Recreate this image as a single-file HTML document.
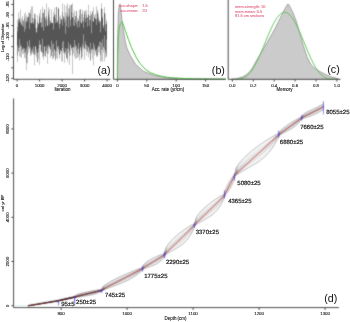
<!DOCTYPE html>
<html><head><meta charset="utf-8"><style>
html,body{margin:0;padding:0;background:#fff;}
svg{display:block;font-family:"Liberation Sans", sans-serif;} 
</style></head><body>
<svg style="will-change:transform" width="350" height="322" viewBox="0 0 350 322">
<defs><filter id="tb" x="-20%" y="-50%" width="140%" height="200%"><feConvolveMatrix order="3" kernelMatrix="1 2 1 2 6 2 1 2 1" divisor="18" edgeMode="none"/></filter></defs>
<filter id="soft" x="0" y="0" width="350" height="322" filterUnits="userSpaceOnUse"><feConvolveMatrix order="3" kernelMatrix="1 2 1 2 16 2 1 2 1" edgeMode="duplicate"/></filter>
<filter id="tb2" x="-10%" y="-50%" width="120%" height="200%"><feConvolveMatrix order="3" kernelMatrix="1 2 1 2 12 2 1 2 1" divisor="24" edgeMode="none"/></filter>
<rect width="350" height="322" fill="#fff"/>
<g filter="url(#soft)">
<path d="M17 19h1v1h-1zM20 9h1v1h-1zM23 19h1v1h-1zM24 13h1v1h-1zM29 49h1v1h-1zM31 55h1v1h-1zM35 55h1v1h-1zM36 57h1v1h-1zM45 57h1v1h-1zM52 59h1v1h-1zM54 56h1v1h-1zM57 19h1v1h-1zM64 4h1v1h-1zM66 5h1v1h-1zM75 59h1v1h-1zM79 9h1v1h-1zM82 9h1v1h-1zM84 10h1v1h-1zM88 4h1v1h-1zM94 14h1v1h-1zM94 55h1v1h-1zM99 19h1v1h-1zM106 19h1v1h-1zM106 57h1v1h-1z" fill="rgb(240,240,240)"/>
<path d="M17 20h1v6h-1zM17 56h1v6h-1zM18 13h1v6h-1zM19 48h1v8h-1zM20 10h1v11h-1zM20 47h1v9h-1zM21 19h1v4h-1zM21 52h1v5h-1zM22 17h1v3h-1zM22 50h1v3h-1zM23 20h1v1h-1zM23 50h1v3h-1zM24 14h1v3h-1zM24 53h1v4h-1zM25 13h1v8h-1zM25 53h1v5h-1zM26 16h1v3h-1zM26 64h1v6h-1zM27 55h1v8h-1zM28 13h1v3h-1zM28 47h1v4h-1zM30 10h1v3h-1zM30 54h1v1h-1zM31 7h1v16h-1zM31 54h1v1h-1zM32 7h1v11h-1zM33 18h1v4h-1zM34 55h1v10h-1zM35 14h1v5h-1zM35 47h1v8h-1zM36 29h1v2h-1zM36 53h1v4h-1zM37 16h1v5h-1zM38 53h1v6h-1zM39 13h1v2h-1zM39 45h1v19h-1zM40 10h1v12h-1zM40 45h1v6h-1zM41 18h1v4h-1zM42 7h1v6h-1zM42 53h1v3h-1zM43 57h1v2h-1zM44 47h1v8h-1zM45 17h1v2h-1zM46 4h1v12h-1zM46 51h1v2h-1zM47 19h1v6h-1zM47 54h1v9h-1zM48 8h1v3h-1zM48 47h1v6h-1zM49 9h1v8h-1zM49 47h1v1h-1zM50 50h1v7h-1zM51 10h1v12h-1zM52 52h1v7h-1zM53 13h1v3h-1zM53 57h1v1h-1zM54 8h1v7h-1zM54 50h1v6h-1zM55 14h1v4h-1zM55 59h1v1h-1zM56 51h1v6h-1zM57 20h1v1h-1zM57 48h1v11h-1zM58 50h1v2h-1zM59 17h1v7h-1zM59 55h1v3h-1zM60 16h1v3h-1zM60 51h1v2h-1zM61 52h1v9h-1zM62 4h1v8h-1zM62 48h1v13h-1zM63 51h1v2h-1zM64 5h1v12h-1zM64 54h1v8h-1zM65 13h1v6h-1zM65 53h1v1h-1zM66 6h1v9h-1zM67 4h1v9h-1zM67 59h1v3h-1zM68 9h1v7h-1zM68 49h1v4h-1zM69 6h1v2h-1zM69 56h1v9h-1zM70 6h1v13h-1zM70 46h1v9h-1zM71 48h1v2h-1zM72 4h1v13h-1zM72 56h1v18h-1zM73 13h1v4h-1zM73 48h1v5h-1zM74 11h1v8h-1zM74 49h1v7h-1zM75 47h1v12h-1zM76 51h1v7h-1zM77 18h1v3h-1zM77 54h1v3h-1zM78 19h1v1h-1zM78 49h1v7h-1zM79 10h1v5h-1zM79 55h1v5h-1zM80 48h1v2h-1zM81 15h1v8h-1zM82 10h1v3h-1zM82 48h1v8h-1zM83 18h1v3h-1zM83 47h1v2h-1zM84 11h1v1h-1zM84 49h1v11h-1zM85 11h1v7h-1zM85 45h1v4h-1zM86 11h1v3h-1zM86 50h1v5h-1zM88 5h1v9h-1zM88 48h1v9h-1zM89 16h1v4h-1zM90 12h1v4h-1zM90 60h1v1h-1zM91 50h1v3h-1zM92 50h1v8h-1zM93 8h1v13h-1zM93 51h1v14h-1zM94 15h1v2h-1zM94 49h1v6h-1zM95 14h1v4h-1zM95 51h1v2h-1zM96 7h1v12h-1zM97 10h1v1h-1zM98 13h1v4h-1zM98 47h1v5h-1zM99 48h1v5h-1zM100 56h1v5h-1zM101 4h1v4h-1zM101 50h1v11h-1zM102 9h1v7h-1zM102 50h1v11h-1zM103 25h1v1h-1zM103 48h1v4h-1zM104 8h1v4h-1zM104 50h1v11h-1zM105 14h1v10h-1zM105 53h1v4h-1zM106 20h1v2h-1zM106 56h1v1h-1z" fill="rgb(198,198,198)"/>
<path d="M17 26h1v1h-1zM21 23h1v1h-1zM24 17h1v1h-1zM25 21h1v1h-1zM26 19h1v1h-1zM28 16h1v1h-1zM30 53h1v1h-1zM32 51h1v1h-1zM39 15h1v1h-1zM65 19h1v1h-1zM70 19h1v1h-1zM72 55h1v1h-1zM73 47h1v1h-1zM76 11h1v1h-1zM85 44h1v1h-1zM87 17h1v1h-1zM89 52h1v1h-1zM92 11h1v1h-1zM99 47h1v1h-1zM100 55h1v1h-1zM106 55h1v1h-1z" fill="rgb(186,186,186)"/>
<path d="M17 27h1v4h-1zM17 46h1v9h-1zM18 20h1v2h-1zM18 48h1v3h-1zM19 19h1v1h-1zM19 40h1v7h-1zM20 45h1v1h-1zM21 24h1v1h-1zM21 46h1v5h-1zM22 21h1v5h-1zM23 22h1v4h-1zM23 48h1v1h-1zM24 18h1v13h-1zM24 49h1v4h-1zM25 22h1v6h-1zM25 51h1v1h-1zM26 20h1v2h-1zM26 49h1v14h-1zM27 18h1v3h-1zM27 42h1v12h-1zM29 13h1v15h-1zM29 40h1v8h-1zM30 14h1v8h-1zM30 48h1v5h-1zM31 51h1v2h-1zM32 18h1v4h-1zM32 49h1v2h-1zM33 47h1v7h-1zM34 14h1v5h-1zM34 52h1v2h-1zM35 20h1v7h-1zM36 50h1v2h-1zM37 22h1v5h-1zM37 53h1v9h-1zM38 49h1v3h-1zM39 16h1v2h-1zM39 41h1v4h-1zM41 22h1v5h-1zM41 51h1v1h-1zM42 14h1v12h-1zM42 39h1v14h-1zM43 13h1v17h-1zM43 53h1v3h-1zM44 10h1v7h-1zM44 46h1v1h-1zM45 19h1v7h-1zM45 52h1v4h-1zM46 17h1v3h-1zM46 46h1v4h-1zM47 48h1v6h-1zM48 12h1v2h-1zM48 45h1v1h-1zM49 18h1v6h-1zM50 22h1v1h-1zM51 41h1v14h-1zM52 45h1v6h-1zM53 17h1v12h-1zM53 44h1v12h-1zM55 19h1v4h-1zM55 52h1v7h-1zM56 7h1v14h-1zM56 41h1v9h-1zM58 47h1v2h-1zM59 25h1v3h-1zM60 20h1v3h-1zM62 13h1v12h-1zM62 43h1v5h-1zM63 17h1v2h-1zM63 41h1v9h-1zM64 18h1v4h-1zM65 20h1v13h-1zM65 48h1v4h-1zM66 16h1v10h-1zM66 50h1v8h-1zM67 14h1v2h-1zM67 49h1v9h-1zM68 17h1v10h-1zM68 43h1v6h-1zM69 9h1v6h-1zM69 52h1v3h-1zM70 20h1v6h-1zM71 5h1v7h-1zM72 48h1v7h-1zM73 17h1v8h-1zM74 20h1v6h-1zM74 40h1v8h-1zM75 16h1v6h-1zM75 45h1v1h-1zM76 12h1v12h-1zM76 46h1v4h-1zM77 22h1v5h-1zM77 49h1v4h-1zM78 44h1v4h-1zM79 16h1v11h-1zM80 10h1v11h-1zM81 52h1v6h-1zM82 14h1v7h-1zM82 44h1v3h-1zM83 22h1v5h-1zM83 35h1v11h-1zM84 12h1v2h-1zM84 48h1v1h-1zM85 19h1v3h-1zM85 42h1v2h-1zM86 15h1v2h-1zM86 46h1v3h-1zM87 18h1v8h-1zM87 46h1v5h-1zM89 20h1v5h-1zM89 50h1v2h-1zM90 16h1v3h-1zM90 43h1v17h-1zM91 14h1v19h-1zM92 12h1v9h-1zM93 43h1v7h-1zM94 46h1v2h-1zM96 19h1v5h-1zM96 50h1v5h-1zM97 12h1v1h-1zM97 48h1v7h-1zM98 18h1v3h-1zM99 21h1v2h-1zM99 42h1v5h-1zM100 22h1v10h-1zM100 42h1v13h-1zM101 43h1v7h-1zM102 17h1v1h-1zM102 40h1v9h-1zM103 27h1v1h-1zM104 36h1v13h-1zM105 25h1v6h-1zM105 51h1v1h-1zM106 22h1v2h-1zM106 40h1v15h-1z" fill="rgb(144,144,144)"/>
<path d="M17 31h1v1h-1zM18 47h1v1h-1zM23 26h1v1h-1zM26 22h1v1h-1zM27 21h1v1h-1zM32 48h1v1h-1zM37 27h1v1h-1zM42 38h1v1h-1zM48 44h1v1h-1zM51 40h1v1h-1zM54 15h1v1h-1zM55 23h1v1h-1zM73 25h1v1h-1zM81 51h1v1h-1zM89 49h1v1h-1zM98 21h1v1h-1zM106 39h1v1h-1z" fill="rgb(108,108,108)"/>
<path d="M17 32h1v13h-1zM18 23h1v24h-1zM19 21h1v18h-1zM20 23h1v21h-1zM21 26h1v20h-1zM22 27h1v21h-1zM23 27h1v20h-1zM24 32h1v16h-1zM25 29h1v21h-1zM26 23h1v25h-1zM27 22h1v19h-1zM28 18h1v27h-1zM29 29h1v10h-1zM30 23h1v24h-1zM31 24h1v26h-1zM32 23h1v25h-1zM33 24h1v22h-1zM34 20h1v31h-1zM35 28h1v17h-1zM36 33h1v16h-1zM37 28h1v24h-1zM38 25h1v23h-1zM39 19h1v21h-1zM40 23h1v21h-1zM41 28h1v22h-1zM42 27h1v11h-1zM43 31h1v21h-1zM44 18h1v28h-1zM45 27h1v24h-1zM46 21h1v24h-1zM47 26h1v21h-1zM48 15h1v29h-1zM49 25h1v21h-1zM50 24h1v24h-1zM51 24h1v16h-1zM52 24h1v20h-1zM53 30h1v13h-1zM54 16h1v33h-1zM55 24h1v27h-1zM56 22h1v18h-1zM57 23h1v23h-1zM58 9h1v37h-1zM59 29h1v25h-1zM60 24h1v25h-1zM61 21h1v30h-1zM62 26h1v16h-1zM63 20h1v21h-1zM64 23h1v29h-1zM65 34h1v14h-1zM66 27h1v22h-1zM67 17h1v31h-1zM68 28h1v14h-1zM69 16h1v35h-1zM70 27h1v17h-1zM71 13h1v34h-1zM72 18h1v29h-1zM73 26h1v21h-1zM74 27h1v12h-1zM75 23h1v21h-1zM76 25h1v20h-1zM77 28h1v20h-1zM78 21h1v22h-1zM79 28h1v25h-1zM80 22h1v24h-1zM81 24h1v27h-1zM82 22h1v21h-1zM83 28h1v6h-1zM84 15h1v33h-1zM85 23h1v18h-1zM86 18h1v27h-1zM87 27h1v18h-1zM88 16h1v30h-1zM89 26h1v23h-1zM90 20h1v22h-1zM91 34h1v15h-1zM92 22h1v26h-1zM93 22h1v20h-1zM94 18h1v27h-1zM95 19h1v30h-1zM96 25h1v24h-1zM97 14h1v33h-1zM98 22h1v23h-1zM99 24h1v17h-1zM100 33h1v8h-1zM101 9h1v34h-1zM102 19h1v20h-1zM103 29h1v17h-1zM104 13h1v22h-1zM105 32h1v18h-1zM106 25h1v14h-1z" fill="rgb(84,84,84)"/>
<path d="M17 45h1v1h-1zM18 22h1v1h-1zM20 44h1v1h-1zM28 17h1v1h-1zM31 50h1v1h-1zM35 27h1v1h-1zM36 32h1v1h-1zM38 48h1v1h-1zM45 26h1v1h-1zM45 51h1v1h-1zM47 47h1v1h-1zM52 44h1v1h-1zM57 46h1v1h-1zM62 25h1v1h-1zM65 33h1v1h-1zM68 27h1v1h-1zM68 42h1v1h-1zM69 15h1v1h-1zM76 24h1v1h-1zM77 27h1v1h-1zM83 34h1v1h-1zM86 17h1v1h-1zM87 26h1v1h-1zM89 25h1v1h-1zM94 45h1v1h-1zM97 13h1v1h-1zM102 39h1v1h-1z" fill="rgb(126,126,126)"/>
<path d="M17 55h1v1h-1zM21 51h1v1h-1zM44 9h1v1h-1zM61 51h1v1h-1zM66 15h1v1h-1zM74 19h1v1h-1zM76 50h1v1h-1zM80 9h1v1h-1zM83 46h1v1h-1zM87 51h1v1h-1zM95 18h1v1h-1zM96 55h1v1h-1zM98 46h1v1h-1zM100 21h1v1h-1zM102 16h1v1h-1zM104 49h1v1h-1z" fill="rgb(180,180,180)"/>
<path d="M18 12h1v1h-1zM24 57h1v1h-1zM25 58h1v1h-1zM33 54h1v1h-1zM34 13h1v1h-1zM48 53h1v1h-1zM51 9h1v1h-1zM58 7h1v1h-1zM60 53h1v1h-1zM62 3h1v1h-1zM68 8h1v1h-1zM74 10h1v1h-1zM79 60h1v1h-1zM97 9h1v1h-1zM103 24h1v1h-1zM103 52h1v1h-1zM105 57h1v1h-1z" fill="rgb(222,222,222)"/>
<path d="M18 19h1v1h-1zM22 49h1v1h-1zM23 21h1v1h-1zM34 54h1v1h-1zM38 23h1v1h-1zM46 16h1v1h-1zM47 25h1v1h-1zM48 46h1v1h-1zM49 17h1v1h-1zM56 50h1v1h-1zM61 19h1v1h-1zM68 16h1v1h-1zM77 21h1v1h-1zM79 15h1v1h-1zM86 14h1v1h-1z" fill="rgb(168,168,168)"/>
<path d="M18 51h1v1h-1zM28 12h1v1h-1zM36 28h1v1h-1zM42 56h1v1h-1zM43 12h1v1h-1zM46 3h1v1h-1zM65 12h1v1h-1zM67 3h1v1h-1zM69 5h1v1h-1zM71 4h1v1h-1zM72 3h1v1h-1zM74 56h1v1h-1zM81 59h1v1h-1zM83 17h1v1h-1zM85 10h1v1h-1zM86 10h1v1h-1zM86 55h1v1h-1zM89 53h1v1h-1zM92 58h1v1h-1zM101 3h1v1h-1z" fill="rgb(216,216,216)"/>
<path d="M19 17h1v1h-1zM19 56h1v1h-1zM30 9h1v1h-1zM34 65h1v1h-1zM38 22h1v1h-1zM42 6h1v1h-1zM54 7h1v1h-1zM56 6h1v1h-1zM57 59h1v1h-1zM59 16h1v1h-1zM68 53h1v1h-1zM71 50h1v1h-1zM73 12h1v1h-1zM73 53h1v1h-1zM77 17h1v1h-1zM78 18h1v1h-1zM89 15h1v1h-1zM93 65h1v1h-1z" fill="rgb(234,234,234)"/>
<path d="M19 18h1v1h-1zM19 47h1v1h-1zM20 21h1v1h-1zM22 20h1v1h-1zM25 52h1v1h-1zM27 54h1v1h-1zM31 53h1v1h-1zM37 21h1v1h-1zM38 52h1v1h-1zM43 56h1v1h-1zM46 50h1v1h-1zM65 52h1v1h-1zM69 8h1v1h-1zM69 55h1v1h-1zM70 45h1v1h-1zM77 53h1v1h-1zM78 20h1v1h-1zM82 13h1v1h-1zM82 47h1v1h-1zM93 50h1v1h-1zM97 55h1v1h-1zM103 47h1v1h-1zM104 12h1v1h-1z" fill="rgb(174,174,174)"/>
<path d="M19 20h1v1h-1zM24 31h1v1h-1zM25 50h1v1h-1zM26 48h1v1h-1zM27 41h1v1h-1zM32 22h1v1h-1zM33 46h1v1h-1zM36 49h1v1h-1zM38 24h1v1h-1zM39 40h1v1h-1zM43 30h1v1h-1zM53 29h1v1h-1zM59 54h1v1h-1zM60 49h1v1h-1zM70 44h1v1h-1zM77 48h1v1h-1zM79 53h1v1h-1zM84 14h1v1h-1zM86 45h1v1h-1zM103 46h1v1h-1zM105 50h1v1h-1z" fill="rgb(120,120,120)"/>
<path d="M19 39h1v1h-1zM24 48h1v1h-1zM29 28h1v1h-1zM30 47h1v1h-1zM33 23h1v1h-1zM40 44h1v1h-1zM42 26h1v1h-1zM54 49h1v1h-1zM56 21h1v1h-1zM57 22h1v1h-1zM58 46h1v1h-1zM67 16h1v1h-1zM67 48h1v1h-1zM69 51h1v1h-1zM72 17h1v1h-1zM78 43h1v1h-1zM83 27h1v1h-1zM90 19h1v1h-1zM94 17h1v1h-1z" fill="rgb(138,138,138)"/>
<path d="M20 22h1v1h-1zM25 28h1v1h-1zM41 50h1v1h-1zM46 20h1v1h-1zM48 14h1v1h-1zM49 24h1v1h-1zM49 46h1v1h-1zM62 42h1v1h-1zM64 52h1v1h-1zM80 21h1v1h-1zM85 41h1v1h-1zM91 49h1v1h-1zM92 48h1v1h-1zM96 24h1v1h-1z" fill="rgb(132,132,132)"/>
<path d="M20 46h1v1h-1zM23 49h1v1h-1zM28 46h1v1h-1zM48 11h1v1h-1zM50 21h1v1h-1zM50 49h1v1h-1zM52 51h1v1h-1zM57 47h1v1h-1zM58 8h1v1h-1zM64 17h1v1h-1zM67 58h1v1h-1zM75 46h1v1h-1zM79 54h1v1h-1zM88 14h1v1h-1zM92 49h1v1h-1zM94 48h1v1h-1zM95 50h1v1h-1zM97 11h1v1h-1zM98 17h1v1h-1zM102 49h1v1h-1z" fill="rgb(162,162,162)"/>
<path d="M20 56h1v1h-1zM21 57h1v1h-1zM22 16h1v1h-1zM22 53h1v1h-1zM23 53h1v1h-1zM25 12h1v1h-1zM30 55h1v1h-1zM32 52h1v1h-1zM37 15h1v1h-1zM39 64h1v1h-1zM43 59h1v1h-1zM53 12h1v1h-1zM53 58h1v1h-1zM60 15h1v1h-1zM64 62h1v1h-1zM65 54h1v1h-1zM70 5h1v1h-1zM78 56h1v1h-1zM90 11h1v1h-1zM96 6h1v1h-1zM96 56h1v1h-1zM97 56h1v1h-1z" fill="rgb(210,210,210)"/>
<path d="M21 18h1v1h-1zM26 15h1v1h-1zM31 6h1v1h-1zM32 6h1v1h-1zM37 62h1v1h-1zM40 9h1v1h-1zM41 17h1v1h-1zM41 52h1v1h-1zM47 18h1v1h-1zM50 20h1v1h-1zM52 22h1v1h-1zM58 52h1v1h-1zM59 58h1v1h-1zM61 18h1v1h-1zM61 61h1v1h-1zM62 61h1v1h-1zM63 15h1v1h-1zM66 58h1v1h-1zM70 55h1v1h-1zM76 10h1v1h-1zM83 49h1v1h-1zM88 57h1v1h-1zM91 53h1v1h-1zM100 61h1v1h-1zM101 61h1v1h-1zM102 61h1v1h-1zM104 61h1v1h-1z" fill="rgb(228,228,228)"/>
<path d="M21 25h1v1h-1zM28 45h1v1h-1zM29 39h1v1h-1zM35 45h1v1h-1zM41 27h1v1h-1zM43 52h1v1h-1zM50 23h1v1h-1zM61 20h1v1h-1zM63 19h1v1h-1zM76 45h1v1h-1zM79 27h1v1h-1zM82 43h1v1h-1zM92 21h1v1h-1zM95 49h1v1h-1zM96 49h1v1h-1zM98 45h1v1h-1zM103 28h1v1h-1zM105 31h1v1h-1z" fill="rgb(90,90,90)"/>
<path d="M22 26h1v1h-1zM23 47h1v1h-1zM30 22h1v1h-1zM34 19h1v1h-1zM51 23h1v1h-1zM52 23h1v1h-1zM66 26h1v1h-1zM71 12h1v1h-1zM74 26h1v1h-1zM74 39h1v1h-1zM82 21h1v1h-1zM85 22h1v1h-1zM87 45h1v1h-1zM88 15h1v1h-1zM90 42h1v1h-1zM91 33h1v1h-1zM93 42h1v1h-1zM99 23h1v1h-1zM100 41h1v1h-1zM106 24h1v1h-1z" fill="rgb(96,96,96)"/>
<path d="M22 48h1v1h-1zM31 23h1v1h-1zM34 51h1v1h-1zM46 45h1v1h-1zM53 43h1v1h-1zM55 51h1v1h-1zM56 40h1v1h-1zM59 28h1v1h-1zM60 23h1v1h-1zM66 49h1v1h-1zM80 46h1v1h-1zM88 46h1v1h-1zM102 18h1v1h-1z" fill="rgb(114,114,114)"/>
<path d="M26 63h1v1h-1zM29 48h1v1h-1zM30 13h1v1h-1zM36 31h1v1h-1zM45 56h1v1h-1zM53 16h1v1h-1zM57 21h1v1h-1zM58 49h1v1h-1zM63 16h1v1h-1zM64 53h1v1h-1zM74 48h1v1h-1zM81 58h1v1h-1z" fill="rgb(192,192,192)"/>
<path d="M26 70h1v1h-1zM27 16h1v1h-1zM27 63h1v1h-1zM38 59h1v1h-1zM40 51h1v1h-1zM46 53h1v1h-1zM55 13h1v1h-1zM63 53h1v1h-1zM67 62h1v1h-1zM72 74h1v1h-1zM85 49h1v1h-1zM91 13h1v1h-1zM98 12h1v1h-1zM105 13h1v1h-1z" fill="rgb(246,246,246)"/>
<path d="M27 17h1v1h-1zM35 19h1v1h-1zM51 22h1v1h-1zM53 56h1v1h-1zM60 19h1v1h-1zM60 50h1v1h-1zM62 12h1v1h-1zM78 48h1v1h-1zM85 18h1v1h-1zM101 8h1v1h-1zM105 24h1v1h-1zM105 52h1v1h-1z" fill="rgb(150,150,150)"/>
<path d="M28 51h1v1h-1zM44 55h1v1h-1zM47 63h1v1h-1zM48 7h1v1h-1zM49 48h1v1h-1zM50 57h1v1h-1zM55 60h1v1h-1zM56 57h1v1h-1zM77 57h1v1h-1zM81 14h1v1h-1zM82 56h1v1h-1zM93 7h1v1h-1zM104 7h1v1h-1z" fill="rgb(204,204,204)"/>
<path d="M33 22h1v1h-1zM35 46h1v1h-1zM36 52h1v1h-1zM40 22h1v1h-1zM42 13h1v1h-1zM51 55h1v1h-1zM55 18h1v1h-1zM59 24h1v1h-1zM63 50h1v1h-1zM67 13h1v1h-1zM80 47h1v1h-1zM83 21h1v1h-1zM86 49h1v1h-1zM88 47h1v1h-1zM93 21h1v1h-1zM99 20h1v1h-1zM103 26h1v1h-1z" fill="rgb(156,156,156)"/>
<path d="M37 52h1v1h-1zM39 18h1v1h-1zM44 17h1v1h-1zM50 48h1v1h-1zM64 22h1v1h-1zM70 26h1v1h-1zM71 47h1v1h-1zM72 47h1v1h-1zM75 22h1v1h-1zM75 44h1v1h-1zM81 23h1v1h-1zM97 47h1v1h-1zM99 41h1v1h-1zM100 32h1v1h-1zM104 35h1v1h-1z" fill="rgb(102,102,102)"/>
<line x1="13.50" y1="0.00" x2="13.50" y2="79.30" stroke="#4a4a4a" stroke-width="1.0" />
<line x1="13.50" y1="79.30" x2="110.50" y2="79.30" stroke="#4a4a4a" stroke-width="1.0" />
<line x1="11.30" y1="4.40" x2="13.50" y2="4.40" stroke="#4a4a4a" stroke-width="1.0" />
<line x1="11.30" y1="14.97" x2="13.50" y2="14.97" stroke="#4a4a4a" stroke-width="1.0" />
<line x1="11.30" y1="25.54" x2="13.50" y2="25.54" stroke="#4a4a4a" stroke-width="1.0" />
<line x1="11.30" y1="36.11" x2="13.50" y2="36.11" stroke="#4a4a4a" stroke-width="1.0" />
<line x1="11.30" y1="46.68" x2="13.50" y2="46.68" stroke="#4a4a4a" stroke-width="1.0" />
<line x1="11.30" y1="57.25" x2="13.50" y2="57.25" stroke="#4a4a4a" stroke-width="1.0" />
<line x1="11.30" y1="67.82" x2="13.50" y2="67.82" stroke="#4a4a4a" stroke-width="1.0" />
<line x1="11.30" y1="78.39" x2="13.50" y2="78.39" stroke="#4a4a4a" stroke-width="1.0" />
<line x1="17.10" y1="79.30" x2="17.10" y2="81.50" stroke="#4a4a4a" stroke-width="1.0" />
<line x1="39.60" y1="79.30" x2="39.60" y2="81.50" stroke="#4a4a4a" stroke-width="1.0" />
<line x1="62.10" y1="79.30" x2="62.10" y2="81.50" stroke="#4a4a4a" stroke-width="1.0" />
<line x1="84.60" y1="79.30" x2="84.60" y2="81.50" stroke="#4a4a4a" stroke-width="1.0" />
<line x1="107.10" y1="79.30" x2="107.10" y2="81.50" stroke="#4a4a4a" stroke-width="1.0" />
<polygon points="117.30,79.30 117.60,40.00 118.30,14.00 119.20,5.50 120.10,3.90 121.20,12.40 122.00,20.20 123.50,31.00 125.10,40.40 126.80,48.00 130.40,55.70 135.60,64.30 143.30,71.20 154.40,75.50 169.90,78.00 190.00,78.90 225.50,79.30" fill="#cbcbcb" stroke="#777" stroke-width="0.6"/>
<polyline points="117.50,79.30 117.70,55.00 118.30,38.00 119.20,28.00 120.50,23.50 122.20,21.60 125.30,30.50 128.40,39.50 131.50,47.50 136.00,57.00 140.00,63.50 145.00,69.00 150.30,72.60 157.00,75.20 164.00,76.90 173.00,77.90 186.00,78.60 200.00,78.90 226.00,79.10" fill="none" stroke="#4fbf45" stroke-width="1.0"/>
<line x1="113.50" y1="0.00" x2="113.50" y2="79.30" stroke="#4a4a4a" stroke-width="1.0" />
<line x1="113.50" y1="79.30" x2="225.70" y2="79.30" stroke="#4a4a4a" stroke-width="1.0" />
<line x1="117.40" y1="79.30" x2="117.40" y2="81.50" stroke="#4a4a4a" stroke-width="1.0" />
<line x1="146.80" y1="79.30" x2="146.80" y2="81.50" stroke="#4a4a4a" stroke-width="1.0" />
<line x1="176.20" y1="79.30" x2="176.20" y2="81.50" stroke="#4a4a4a" stroke-width="1.0" />
<line x1="205.60" y1="79.30" x2="205.60" y2="81.50" stroke="#4a4a4a" stroke-width="1.0" />
<polygon points="231.00,79.30 236.00,78.80 242.90,76.80 246.50,74.60 250.00,71.40 252.80,67.20 255.40,62.50 258.00,58.00 260.70,53.60 264.30,47.30 267.90,41.10 271.50,34.80 275.00,28.60 278.50,21.50 282.10,14.30 285.00,8.50 287.50,4.30 289.00,4.80 290.80,8.50 292.90,12.50 296.40,21.40 300.00,33.90 303.60,46.40 307.10,57.10 310.70,64.30 314.30,67.90 319.60,71.40 326.80,75.00 331.00,76.80 335.70,77.90 339.00,79.30" fill="#cbcbcb" stroke="#777" stroke-width="0.6"/>
<polyline points="232.40,79.30 232.75,79.30 233.10,79.30 233.45,79.30 233.80,79.30 234.15,79.30 234.50,79.30 234.85,79.30 235.20,79.29 235.55,79.29 235.89,79.28 236.24,79.27 236.59,79.26 236.94,79.25 237.29,79.23 237.64,79.21 237.99,79.19 238.34,79.16 238.69,79.12 239.04,79.09 239.39,79.04 239.74,78.99 240.09,78.93 240.44,78.86 240.79,78.79 241.14,78.71 241.49,78.62 241.84,78.52 242.19,78.41 242.54,78.29 242.88,78.16 243.23,78.02 243.58,77.87 243.93,77.71 244.28,77.53 244.63,77.34 244.98,77.14 245.33,76.93 245.68,76.70 246.03,76.46 246.38,76.21 246.73,75.94 247.08,75.66 247.43,75.36 247.78,75.05 248.13,74.72 248.48,74.38 248.83,74.02 249.18,73.65 249.53,73.26 249.87,72.86 250.22,72.44 250.57,72.00 250.92,71.55 251.27,71.08 251.62,70.60 251.97,70.10 252.32,69.59 252.67,69.06 253.02,68.52 253.37,67.96 253.72,67.38 254.07,66.79 254.42,66.19 254.77,65.57 255.12,64.94 255.47,64.30 255.82,63.64 256.17,62.97 256.52,62.28 256.86,61.59 257.21,60.88 257.56,60.16 257.91,59.43 258.26,58.68 258.61,57.93 258.96,57.17 259.31,56.40 259.66,55.61 260.01,54.82 260.36,54.03 260.71,53.22 261.06,52.41 261.41,51.59 261.76,50.76 262.11,49.93 262.46,49.10 262.81,48.26 263.16,47.41 263.51,46.57 263.85,45.72 264.20,44.87 264.55,44.02 264.90,43.16 265.25,42.31 265.60,41.46 265.95,40.61 266.30,39.76 266.65,38.91 267.00,38.07 267.35,37.23 267.70,36.40 268.05,35.57 268.40,34.74 268.75,33.93 269.10,33.11 269.45,32.31 269.80,31.52 270.15,30.73 270.50,29.95 270.84,29.19 271.19,28.43 271.54,27.68 271.89,26.95 272.24,26.23 272.59,25.52 272.94,24.83 273.29,24.15 273.64,23.48 273.99,22.83 274.34,22.19 274.69,21.58 275.04,20.97 275.39,20.39 275.74,19.82 276.09,19.27 276.44,18.74 276.79,18.22 277.14,17.73 277.49,17.26 277.83,16.80 278.18,16.37 278.53,15.96 278.88,15.56 279.23,15.19 279.58,14.85 279.93,14.52 280.28,14.21 280.63,13.93 280.98,13.67 281.33,13.44 281.68,13.22 282.03,13.03 282.38,12.87 282.73,12.72 283.08,12.60 283.43,12.51 283.78,12.44 284.13,12.39 284.48,12.37 284.82,12.37 285.17,12.39 285.52,12.44 285.87,12.51 286.22,12.60 286.57,12.72 286.92,12.87 287.27,13.03 287.62,13.22 287.97,13.44 288.32,13.67 288.67,13.93 289.02,14.21 289.37,14.52 289.72,14.85 290.07,15.19 290.42,15.56 290.77,15.96 291.12,16.37 291.47,16.80 291.81,17.26 292.16,17.73 292.51,18.22 292.86,18.74 293.21,19.27 293.56,19.82 293.91,20.39 294.26,20.97 294.61,21.58 294.96,22.19 295.31,22.83 295.66,23.48 296.01,24.15 296.36,24.83 296.71,25.52 297.06,26.23 297.41,26.95 297.76,27.68 298.11,28.43 298.46,29.19 298.80,29.95 299.15,30.73 299.50,31.52 299.85,32.31 300.20,33.11 300.55,33.93 300.90,34.74 301.25,35.57 301.60,36.40 301.95,37.23 302.30,38.07 302.65,38.91 303.00,39.76 303.35,40.61 303.70,41.46 304.05,42.31 304.40,43.16 304.75,44.02 305.10,44.87 305.45,45.72 305.79,46.57 306.14,47.41 306.49,48.26 306.84,49.10 307.19,49.93 307.54,50.76 307.89,51.59 308.24,52.41 308.59,53.22 308.94,54.03 309.29,54.82 309.64,55.61 309.99,56.40 310.34,57.17 310.69,57.93 311.04,58.68 311.39,59.43 311.74,60.16 312.09,60.88 312.44,61.59 312.78,62.28 313.13,62.97 313.48,63.64 313.83,64.30 314.18,64.94 314.53,65.57 314.88,66.19 315.23,66.79 315.58,67.38 315.93,67.96 316.28,68.52 316.63,69.06 316.98,69.59 317.33,70.10 317.68,70.60 318.03,71.08 318.38,71.55 318.73,72.00 319.08,72.44 319.43,72.86 319.77,73.26 320.12,73.65 320.47,74.02 320.82,74.38 321.17,74.72 321.52,75.05 321.87,75.36 322.22,75.66 322.57,75.94 322.92,76.21 323.27,76.46 323.62,76.70 323.97,76.93 324.32,77.14 324.67,77.34 325.02,77.53 325.37,77.71 325.72,77.87 326.07,78.02 326.42,78.16 326.76,78.29 327.11,78.41 327.46,78.52 327.81,78.62 328.16,78.71 328.51,78.79 328.86,78.86 329.21,78.93 329.56,78.99 329.91,79.04 330.26,79.09 330.61,79.12 330.96,79.16 331.31,79.19 331.66,79.21 332.01,79.23 332.36,79.25 332.71,79.26 333.06,79.27 333.41,79.28 333.75,79.29 334.10,79.29 334.45,79.30 334.80,79.30 335.15,79.30 335.50,79.30 335.85,79.30 336.20,79.30 336.55,79.30 336.90,79.30" fill="none" stroke="#4fbf45" stroke-width="1.0"/>
<line x1="228.20" y1="0.00" x2="228.20" y2="79.30" stroke="#4a4a4a" stroke-width="1.0" />
<line x1="228.20" y1="79.30" x2="340.50" y2="79.30" stroke="#4a4a4a" stroke-width="1.0" />
<line x1="232.40" y1="79.30" x2="232.40" y2="81.50" stroke="#4a4a4a" stroke-width="1.0" />
<line x1="253.30" y1="79.30" x2="253.30" y2="81.50" stroke="#4a4a4a" stroke-width="1.0" />
<line x1="274.20" y1="79.30" x2="274.20" y2="81.50" stroke="#4a4a4a" stroke-width="1.0" />
<line x1="295.10" y1="79.30" x2="295.10" y2="81.50" stroke="#4a4a4a" stroke-width="1.0" />
<line x1="316.00" y1="79.30" x2="316.00" y2="81.50" stroke="#4a4a4a" stroke-width="1.0" />
<line x1="336.90" y1="79.30" x2="336.90" y2="81.50" stroke="#4a4a4a" stroke-width="1.0" />
<polygon points="27.90,305.30 28.89,305.13 29.87,304.96 30.86,304.79 31.85,304.62 32.84,304.45 33.82,304.27 34.81,304.10 35.80,303.93 36.78,303.76 37.77,303.59 38.76,303.42 39.75,303.25 40.73,303.08 41.72,302.91 42.71,302.74 43.69,302.56 44.68,302.39 45.67,302.22 46.65,302.05 47.64,301.88 48.63,301.71 49.62,301.54 50.60,301.37 51.59,301.20 52.58,301.03 53.56,300.85 54.55,300.68 55.54,300.51 56.53,300.34 57.51,300.17 58.50,300.00 58.50,301.40 57.51,301.56 56.53,301.72 55.54,301.87 54.55,302.03 53.56,302.19 52.58,302.35 51.59,302.51 50.60,302.66 49.62,302.82 48.63,302.98 47.64,303.14 46.65,303.30 45.67,303.45 44.68,303.61 43.69,303.77 42.71,303.93 41.72,304.09 40.73,304.25 39.75,304.40 38.76,304.56 37.77,304.72 36.78,304.88 35.80,305.04 34.81,305.19 33.82,305.35 32.84,305.51 31.85,305.67 30.86,305.83 29.87,305.98 28.89,306.14 27.90,306.30" fill="url(#g1_0)"/>
<polygon points="27.90,305.57 28.89,305.41 29.87,305.24 30.86,305.07 31.85,304.91 32.84,304.74 33.82,304.57 34.81,304.40 35.80,304.24 36.78,304.07 37.77,303.90 38.76,303.73 39.75,303.57 40.73,303.40 41.72,303.23 42.71,303.06 43.69,302.90 44.68,302.73 45.67,302.56 46.65,302.39 47.64,302.23 48.63,302.06 49.62,301.89 50.60,301.72 51.59,301.56 52.58,301.39 53.56,301.22 54.55,301.05 55.54,300.89 56.53,300.72 57.51,300.55 58.50,300.38 58.50,301.01 57.51,301.18 56.53,301.34 55.54,301.50 54.55,301.66 53.56,301.82 52.58,301.98 51.59,302.15 50.60,302.31 49.62,302.47 48.63,302.63 47.64,302.79 46.65,302.95 45.67,303.12 44.68,303.28 43.69,303.44 42.71,303.60 41.72,303.76 40.73,303.92 39.75,304.09 38.76,304.25 37.77,304.41 36.78,304.57 35.80,304.73 34.81,304.89 33.82,305.06 32.84,305.22 31.85,305.38 30.86,305.54 29.87,305.70 28.89,305.86 27.90,306.03" fill="url(#g2_0)"/>
<polygon points="58.50,300.00 59.02,299.76 59.55,299.61 60.07,299.47 60.59,299.34 61.11,299.21 61.64,299.09 62.16,298.97 62.68,298.85 63.20,298.73 63.73,298.61 64.25,298.49 64.77,298.37 65.29,298.26 65.82,298.14 66.34,298.02 66.86,297.91 67.38,297.79 67.91,297.68 68.43,297.57 68.95,297.45 69.47,297.34 70.00,297.22 70.52,297.11 71.04,296.99 71.56,296.88 72.09,296.76 72.61,296.65 73.13,296.54 73.65,296.42 74.18,296.31 74.70,296.20 74.70,297.80 74.18,297.95 73.65,298.08 73.13,298.22 72.61,298.35 72.09,298.48 71.56,298.60 71.04,298.73 70.52,298.85 70.00,298.97 69.47,299.09 68.95,299.21 68.43,299.33 67.91,299.44 67.38,299.56 66.86,299.67 66.34,299.78 65.82,299.89 65.29,300.00 64.77,300.11 64.25,300.22 63.73,300.33 63.20,300.43 62.68,300.54 62.16,300.65 61.64,300.75 61.11,300.86 60.59,300.97 60.07,301.07 59.55,301.18 59.02,301.29 58.50,301.40" fill="url(#g1_1)"/>
<polygon points="58.50,300.38 59.02,300.21 59.55,300.08 60.07,299.95 60.59,299.83 61.11,299.70 61.64,299.58 62.16,299.46 62.68,299.34 63.20,299.22 63.73,299.10 64.25,298.98 64.77,298.86 65.29,298.75 65.82,298.63 66.34,298.51 66.86,298.39 67.38,298.28 67.91,298.16 68.43,298.04 68.95,297.93 69.47,297.81 70.00,297.69 70.52,297.57 71.04,297.46 71.56,297.34 72.09,297.22 72.61,297.11 73.13,296.99 73.65,296.87 74.18,296.75 74.70,296.64 74.70,297.36 74.18,297.49 73.65,297.62 73.13,297.74 72.61,297.87 72.09,297.99 71.56,298.12 71.04,298.24 70.52,298.36 70.00,298.48 69.47,298.60 68.95,298.72 68.43,298.84 67.91,298.95 67.38,299.07 66.86,299.19 66.34,299.30 65.82,299.42 65.29,299.53 64.77,299.65 64.25,299.76 63.73,299.88 63.20,299.99 62.68,300.10 62.16,300.22 61.64,300.33 61.11,300.44 60.59,300.56 60.07,300.67 59.55,300.79 59.02,300.90 58.50,301.01" fill="url(#g2_1)"/>
<polygon points="74.70,296.20 75.56,295.17 76.42,294.74 77.27,294.39 78.13,294.08 78.99,293.81 79.85,293.55 80.71,293.30 81.56,293.07 82.42,292.86 83.28,292.65 84.14,292.44 85.00,292.25 85.85,292.06 86.71,291.88 87.57,291.70 88.43,291.53 89.29,291.36 90.15,291.19 91.00,291.03 91.86,290.87 92.72,290.72 93.58,290.57 94.44,290.42 95.29,290.27 96.15,290.13 97.01,290.00 97.87,289.87 98.73,289.74 99.58,289.63 100.44,289.53 101.30,289.50 101.30,291.10 100.44,291.74 99.58,292.20 98.73,292.61 97.87,292.99 97.01,293.33 96.15,293.64 95.29,293.93 94.44,294.19 93.58,294.44 92.72,294.66 91.86,294.87 91.00,295.06 90.15,295.24 89.29,295.40 88.43,295.56 87.57,295.70 86.71,295.85 85.85,295.98 85.00,296.11 84.14,296.24 83.28,296.37 82.42,296.50 81.56,296.63 80.71,296.76 79.85,296.90 78.99,297.03 78.13,297.17 77.27,297.32 76.42,297.47 75.56,297.63 74.70,297.80" fill="url(#g1_2)"/>
<polygon points="74.70,296.64 75.56,296.06 76.42,295.75 77.27,295.47 78.13,295.21 78.99,294.97 79.85,294.73 80.71,294.50 81.56,294.28 82.42,294.06 83.28,293.85 84.14,293.64 85.00,293.44 85.85,293.23 86.71,293.03 87.57,292.83 88.43,292.63 89.29,292.44 90.15,292.25 91.00,292.05 91.86,291.86 92.72,291.68 93.58,291.49 94.44,291.30 95.29,291.12 96.15,290.94 97.01,290.76 97.87,290.58 98.73,290.41 99.58,290.24 100.44,290.07 101.30,289.94 101.30,290.66 100.44,291.07 99.58,291.39 98.73,291.70 97.87,291.98 97.01,292.26 96.15,292.52 95.29,292.77 94.44,293.00 93.58,293.23 92.72,293.45 91.86,293.66 91.00,293.87 90.15,294.07 89.29,294.26 88.43,294.45 87.57,294.63 86.71,294.82 85.85,295.00 85.00,295.18 84.14,295.35 83.28,295.53 82.42,295.71 81.56,295.88 80.71,296.06 79.85,296.24 78.99,296.42 78.13,296.60 77.27,296.79 76.42,296.97 75.56,297.16 74.70,297.36" fill="url(#g2_2)"/>
<polygon points="101.30,289.50 102.63,286.95 103.96,285.75 105.29,284.75 106.62,283.84 107.95,282.99 109.27,282.20 110.60,281.44 111.93,280.71 113.26,280.00 114.59,279.31 115.92,278.65 117.25,277.99 118.58,277.35 119.91,276.73 121.24,276.11 122.56,275.51 123.89,274.91 125.22,274.32 126.55,273.74 127.88,273.17 129.21,272.60 130.54,272.04 131.87,271.49 133.20,270.94 134.53,270.40 135.85,269.87 137.18,269.35 138.51,268.85 139.84,268.36 141.17,267.91 142.50,267.60 142.50,269.60 141.17,271.20 139.84,272.43 138.51,273.54 137.18,274.58 135.85,275.55 134.53,276.46 133.20,277.32 131.87,278.13 130.54,278.88 129.21,279.60 127.88,280.28 126.55,280.92 125.22,281.54 123.89,282.12 122.56,282.69 121.24,283.24 119.91,283.77 118.58,284.29 117.25,284.80 115.92,285.31 114.59,285.81 113.26,286.31 111.93,286.81 110.60,287.32 109.27,287.83 107.95,288.34 106.62,288.86 105.29,289.39 103.96,289.94 102.63,290.50 101.30,291.10" fill="url(#g1_3)"/>
<polygon points="101.30,289.94 102.63,288.41 103.96,287.48 105.29,286.65 106.62,285.85 107.95,285.09 109.27,284.34 110.60,283.62 111.93,282.90 113.26,282.20 114.59,281.51 115.92,280.82 117.25,280.14 118.58,279.47 119.91,278.80 121.24,278.14 122.56,277.48 123.89,276.83 125.22,276.18 126.55,275.53 127.88,274.89 129.21,274.25 130.54,273.61 131.87,272.98 133.20,272.35 134.53,271.72 135.85,271.10 137.18,270.48 138.51,269.87 139.84,269.26 141.17,268.67 142.50,268.15 142.50,269.05 141.17,270.15 139.84,271.09 138.51,271.98 137.18,272.83 135.85,273.65 134.53,274.45 133.20,275.22 131.87,275.97 130.54,276.69 129.21,277.40 127.88,278.09 126.55,278.76 125.22,279.43 123.89,280.08 122.56,280.72 121.24,281.35 119.91,281.97 118.58,282.59 117.25,283.21 115.92,283.82 114.59,284.43 113.26,285.04 111.93,285.65 110.60,286.26 109.27,286.88 107.95,287.49 106.62,288.11 105.29,288.74 103.96,289.37 102.63,290.01 101.30,290.66" fill="url(#g2_3)"/>
<polygon points="142.50,267.60 143.21,265.30 143.92,264.37 144.63,263.61 145.34,262.96 146.05,262.37 146.76,261.83 147.47,261.32 148.18,260.85 148.89,260.39 149.60,259.96 150.31,259.55 151.02,259.15 151.73,258.77 152.44,258.40 153.15,258.04 153.85,257.70 154.56,257.36 155.27,257.03 155.98,256.71 156.69,256.40 157.40,256.09 158.11,255.80 158.82,255.51 159.53,255.23 160.24,254.96 160.95,254.69 161.66,254.44 162.37,254.21 163.08,254.00 163.79,253.82 164.50,253.80 164.50,255.80 163.79,257.21 163.08,258.22 162.37,259.11 161.66,259.92 160.95,260.65 160.24,261.32 159.53,261.93 158.82,262.48 158.11,262.99 157.40,263.45 156.69,263.87 155.98,264.26 155.27,264.62 154.56,264.95 153.85,265.25 153.15,265.54 152.44,265.82 151.73,266.08 151.02,266.33 150.31,266.58 149.60,266.83 148.89,267.07 148.18,267.32 147.47,267.57 146.76,267.83 146.05,268.09 145.34,268.36 144.63,268.64 143.92,268.94 143.21,269.25 142.50,269.60" fill="url(#g1_4)"/>
<polygon points="142.50,268.15 143.21,266.87 143.92,266.20 144.63,265.62 145.34,265.08 146.05,264.57 146.76,264.08 147.47,263.61 148.18,263.15 148.89,262.70 149.60,262.27 150.31,261.83 151.02,261.41 151.73,260.99 152.44,260.58 153.15,260.18 153.85,259.78 154.56,259.38 155.27,258.99 155.98,258.60 156.69,258.21 157.40,257.83 158.11,257.45 158.82,257.08 159.53,256.71 160.24,256.34 160.95,255.98 161.66,255.62 162.37,255.27 163.08,254.93 163.79,254.60 164.50,254.35 164.50,255.25 163.79,256.13 163.08,256.83 162.37,257.47 161.66,258.08 160.95,258.66 160.24,259.20 159.53,259.72 158.82,260.22 158.11,260.69 157.40,261.14 156.69,261.58 155.98,262.00 155.27,262.40 154.56,262.79 153.85,263.18 153.15,263.55 152.44,263.92 151.73,264.28 151.02,264.64 150.31,265.00 149.60,265.35 148.89,265.71 148.18,266.07 147.47,266.42 146.76,266.78 146.05,267.15 145.34,267.51 144.63,267.88 143.92,268.26 143.21,268.65 142.50,269.05" fill="url(#g2_4)"/>
<polygon points="164.50,253.80 165.47,249.08 166.44,247.12 167.41,245.53 168.38,244.15 169.35,242.89 170.33,241.73 171.30,240.65 172.27,239.62 173.24,238.65 174.21,237.72 175.18,236.82 176.15,235.96 177.12,235.13 178.09,234.32 179.06,233.53 180.04,232.77 181.01,232.03 181.98,231.30 182.95,230.60 183.92,229.91 184.89,229.23 185.86,228.57 186.83,227.93 187.80,227.30 188.77,226.69 189.75,226.10 190.72,225.54 191.69,225.00 192.66,224.51 193.63,224.10 194.60,224.00 194.60,226.00 193.63,228.91 192.66,231.03 191.69,232.90 190.72,234.59 189.75,236.14 188.77,237.55 187.80,238.85 186.83,240.03 185.86,241.12 184.89,242.11 183.92,243.03 182.95,243.87 181.98,244.65 181.01,245.38 180.04,246.06 179.06,246.70 178.09,247.32 177.12,247.91 176.15,248.48 175.18,249.04 174.21,249.60 173.24,250.16 172.27,250.72 171.30,251.28 170.33,251.86 169.35,252.44 168.38,253.05 167.41,253.68 166.44,254.34 165.47,255.03 164.50,255.80" fill="url(#g1_5)"/>
<polygon points="164.50,254.35 165.47,251.70 166.44,250.28 167.41,249.04 168.38,247.89 169.35,246.80 170.33,245.75 171.30,244.73 172.27,243.74 173.24,242.77 174.21,241.83 175.18,240.89 176.15,239.98 177.12,239.07 178.09,238.18 179.06,237.30 180.04,236.43 181.01,235.56 181.98,234.71 182.95,233.86 183.92,233.02 184.89,232.19 185.86,231.37 186.83,230.55 187.80,229.74 188.77,228.93 189.75,228.14 190.72,227.36 191.69,226.59 192.66,225.84 193.63,225.12 194.60,224.55 194.60,225.45 193.63,227.29 192.66,228.77 191.69,230.14 190.72,231.43 189.75,232.65 188.77,233.82 187.80,234.93 186.83,235.99 185.86,237.01 184.89,237.99 183.92,238.93 182.95,239.84 181.98,240.72 181.01,241.57 180.04,242.41 179.06,243.23 178.09,244.03 177.12,244.83 176.15,245.61 175.18,246.39 174.21,247.17 173.24,247.95 172.27,248.73 171.30,249.52 170.33,250.30 169.35,251.10 168.38,251.90 167.41,252.71 166.44,253.53 165.47,254.37 164.50,255.25" fill="url(#g2_5)"/>
<polygon points="194.60,224.00 195.56,219.29 196.53,217.34 197.49,215.76 198.46,214.39 199.42,213.14 200.39,211.99 201.35,210.92 202.32,209.90 203.28,208.94 204.25,208.01 205.21,207.13 206.17,206.28 207.14,205.45 208.10,204.65 209.07,203.88 210.03,203.13 211.00,202.39 211.96,201.68 212.93,200.98 213.89,200.30 214.85,199.63 215.82,198.98 216.78,198.35 217.75,197.73 218.71,197.13 219.68,196.55 220.64,196.00 221.61,195.47 222.57,194.99 223.54,194.59 224.50,194.50 224.50,196.50 223.54,199.40 222.57,201.51 221.61,203.37 220.64,205.05 219.68,206.59 218.71,207.99 217.75,209.28 216.78,210.45 215.82,211.53 214.85,212.52 213.89,213.42 212.93,214.25 211.96,215.03 211.00,215.74 210.03,216.41 209.07,217.05 208.10,217.65 207.14,218.23 206.17,218.80 205.21,219.35 204.25,219.90 203.28,220.44 202.32,220.99 201.35,221.55 200.39,222.11 199.42,222.69 198.46,223.29 197.49,223.91 196.53,224.55 195.56,225.24 194.60,226.00" fill="url(#g1_6)"/>
<polygon points="194.60,224.55 195.56,221.91 196.53,220.50 197.49,219.27 198.46,218.13 199.42,217.05 200.39,216.01 201.35,215.00 202.32,214.02 203.28,213.06 204.25,212.12 205.21,211.20 206.17,210.29 207.14,209.40 208.10,208.52 209.07,207.65 210.03,206.78 211.00,205.93 211.96,205.08 212.93,204.25 213.89,203.42 214.85,202.59 215.82,201.78 216.78,200.97 217.75,200.17 218.71,199.38 219.68,198.59 220.64,197.82 221.61,197.06 222.57,196.32 223.54,195.61 224.50,195.05 224.50,195.95 223.54,197.78 222.57,199.25 221.61,200.61 220.64,201.89 219.68,203.11 218.71,204.26 217.75,205.36 216.78,206.42 215.82,207.42 214.85,208.39 213.89,209.32 212.93,210.22 211.96,211.09 211.00,211.94 210.03,212.76 209.07,213.57 208.10,214.37 207.14,215.15 206.17,215.93 205.21,216.70 204.25,217.47 203.28,218.24 202.32,219.01 201.35,219.78 200.39,220.56 199.42,221.35 198.46,222.14 197.49,222.94 196.53,223.75 195.56,224.58 194.60,225.45" fill="url(#g2_6)"/>
<polygon points="224.50,194.50 224.82,191.83 225.15,190.65 225.47,189.67 225.79,188.79 226.11,187.99 226.44,187.24 226.76,186.53 227.08,185.85 227.40,185.19 227.73,184.56 228.05,183.96 228.37,183.36 228.69,182.79 229.02,182.22 229.34,181.67 229.66,181.14 229.98,180.61 230.31,180.09 230.63,179.58 230.95,179.08 231.27,178.59 231.60,178.11 231.92,177.64 232.24,177.17 232.56,176.71 232.89,176.27 233.21,175.84 233.53,175.42 233.85,175.03 234.18,174.68 234.50,174.50 234.50,176.50 234.18,178.20 233.85,179.46 233.53,180.60 233.21,181.64 232.89,182.60 232.56,183.48 232.24,184.31 231.92,185.08 231.60,185.79 231.27,186.45 230.95,187.07 230.63,187.65 230.31,188.20 229.98,188.72 229.66,189.21 229.34,189.69 229.02,190.15 228.69,190.59 228.37,191.03 228.05,191.46 227.73,191.89 227.40,192.31 227.08,192.74 226.76,193.17 226.44,193.61 226.11,194.06 225.79,194.51 225.47,194.98 225.15,195.46 224.82,195.96 224.50,196.50" fill="url(#g1_7)"/>
<polygon points="224.50,195.05 224.82,193.49 225.15,192.61 225.47,191.81 225.79,191.06 226.11,190.35 226.44,189.65 226.76,188.98 227.08,188.32 227.40,187.67 227.73,187.03 228.05,186.40 228.37,185.78 228.69,185.17 229.02,184.56 229.34,183.96 229.66,183.36 229.98,182.77 230.31,182.18 230.63,181.60 230.95,181.02 231.27,180.44 231.60,179.87 231.92,179.30 232.24,178.74 232.56,178.18 232.89,177.62 233.21,177.07 233.53,176.53 233.85,176.00 234.18,175.49 234.50,175.05 234.50,175.95 234.18,177.07 233.85,177.99 233.53,178.86 233.21,179.68 232.89,180.47 232.56,181.22 232.24,181.95 231.92,182.65 231.60,183.32 231.27,183.98 230.95,184.61 230.63,185.23 230.31,185.83 229.98,186.42 229.66,186.99 229.34,187.56 229.02,188.12 228.69,188.68 228.37,189.23 228.05,189.78 227.73,190.33 227.40,190.87 227.08,191.42 226.76,191.97 226.44,192.52 226.11,193.08 225.79,193.64 225.47,194.20 225.15,194.77 224.82,195.35 224.50,195.95" fill="url(#g2_7)"/>
<polygon points="234.50,174.50 235.93,168.56 237.35,166.02 238.78,163.94 240.20,162.11 241.63,160.44 243.05,158.89 244.48,157.43 245.91,156.04 247.33,154.71 248.76,153.44 250.18,152.21 251.61,151.02 253.04,149.87 254.46,148.75 255.89,147.66 257.31,146.59 258.74,145.55 260.16,144.53 261.59,143.54 263.02,142.56 264.44,141.60 265.87,140.67 267.29,139.75 268.72,138.85 270.15,137.97 271.57,137.12 273.00,136.30 274.42,135.51 275.85,134.78 277.27,134.14 278.70,133.90 278.70,135.90 277.27,139.61 275.85,142.34 274.42,144.77 273.00,146.98 271.57,149.01 270.15,150.87 268.72,152.60 267.29,154.18 265.87,155.64 264.44,157.00 263.02,158.25 261.59,159.41 260.16,160.50 258.74,161.52 257.31,162.49 255.89,163.41 254.46,164.29 253.04,165.14 251.61,165.97 250.18,166.79 248.76,167.60 247.33,168.42 245.91,169.23 244.48,170.05 243.05,170.89 241.63,171.74 240.20,172.61 238.78,173.51 237.35,174.44 235.93,175.43 234.50,176.50" fill="url(#g1_8)"/>
<polygon points="234.50,175.05 235.93,171.66 237.35,169.79 238.78,168.14 240.20,166.59 241.63,165.12 243.05,163.70 244.48,162.33 245.91,160.98 247.33,159.66 248.76,158.37 250.18,157.10 251.61,155.84 253.04,154.60 254.46,153.38 255.89,152.17 257.31,150.97 258.74,149.78 260.16,148.60 261.59,147.43 263.02,146.27 264.44,145.12 265.87,143.98 267.29,142.84 268.72,141.72 270.15,140.60 271.57,139.50 273.00,138.41 274.42,137.34 275.85,136.29 277.27,135.28 278.70,134.45 278.70,135.35 277.27,137.74 275.85,139.69 274.42,141.50 273.00,143.22 271.57,144.85 270.15,146.41 268.72,147.91 267.29,149.34 265.87,150.72 264.44,152.05 263.02,153.33 261.59,154.57 260.16,155.78 258.74,156.96 257.31,158.12 255.89,159.25 254.46,160.37 253.04,161.47 251.61,162.57 250.18,163.66 248.76,164.74 247.33,165.83 245.91,166.92 244.48,168.01 243.05,169.10 241.63,170.21 240.20,171.32 238.78,172.44 237.35,173.58 235.93,174.75 234.50,175.95" fill="url(#g2_8)"/>
<polygon points="278.70,133.90 279.45,131.90 280.19,130.97 280.94,130.17 281.68,129.46 282.43,128.80 283.17,128.17 283.92,127.57 284.66,126.99 285.41,126.44 286.15,125.90 286.90,125.37 287.64,124.86 288.39,124.35 289.13,123.86 289.88,123.38 290.62,122.90 291.37,122.43 292.11,121.97 292.86,121.52 293.60,121.07 294.35,120.63 295.09,120.20 295.84,119.77 296.58,119.34 297.33,118.93 298.07,118.52 298.82,118.12 299.56,117.73 300.31,117.36 301.05,117.02 301.80,116.80 301.80,118.80 301.05,120.10 300.31,121.10 299.56,122.00 298.82,122.83 298.07,123.61 297.33,124.33 296.58,125.01 295.84,125.65 295.09,126.25 294.35,126.82 293.60,127.35 292.86,127.86 292.11,128.34 291.37,128.80 290.62,129.24 289.88,129.67 289.13,130.09 288.39,130.50 287.64,130.90 286.90,131.30 286.15,131.70 285.41,132.09 284.66,132.49 283.92,132.89 283.17,133.29 282.43,133.70 281.68,134.12 280.94,134.54 280.19,134.97 279.45,135.42 278.70,135.90" fill="url(#g1_9)"/>
<polygon points="278.70,134.45 279.45,133.25 280.19,132.52 280.94,131.86 281.68,131.24 282.43,130.64 283.17,130.05 283.92,129.48 284.66,128.91 285.41,128.36 286.15,127.81 286.90,127.27 287.64,126.74 288.39,126.21 289.13,125.68 289.88,125.16 290.62,124.65 291.37,124.13 292.11,123.62 292.86,123.11 293.60,122.61 294.35,122.11 295.09,121.61 295.84,121.11 296.58,120.62 297.33,120.13 298.07,119.64 298.82,119.16 299.56,118.68 300.31,118.21 301.05,117.75 301.80,117.35 301.80,118.25 301.05,119.14 300.31,119.89 299.56,120.60 298.82,121.28 298.07,121.93 297.33,122.56 296.58,123.17 295.84,123.76 295.09,124.33 294.35,124.89 293.60,125.43 292.86,125.97 292.11,126.49 291.37,127.00 290.62,127.50 289.88,128.00 289.13,128.49 288.39,128.98 287.64,129.46 286.90,129.94 286.15,130.42 285.41,130.91 284.66,131.39 283.92,131.87 283.17,132.36 282.43,132.84 281.68,133.33 280.94,133.83 280.19,134.33 279.45,134.83 278.70,135.35" fill="url(#g2_9)"/>
<polygon points="301.80,116.80 302.52,115.12 303.24,114.40 303.96,113.83 304.68,113.33 305.40,112.87 306.12,112.45 306.84,112.05 307.56,111.67 308.28,111.30 309.00,110.94 309.72,110.60 310.44,110.25 311.16,109.91 311.88,109.58 312.60,109.24 313.32,108.90 314.04,108.56 314.76,108.22 315.48,107.88 316.20,107.54 316.92,107.19 317.64,106.83 318.36,106.47 319.08,106.11 319.80,105.74 320.52,105.36 321.24,104.98 321.96,104.59 322.68,104.20 323.40,103.80 323.40,109.80 322.68,110.18 321.96,110.56 321.24,110.95 320.52,111.35 319.80,111.74 319.08,112.14 318.36,112.53 317.64,112.92 316.92,113.30 316.20,113.67 315.48,114.02 314.76,114.36 314.04,114.69 313.32,115.01 312.60,115.31 311.88,115.60 311.16,115.88 310.44,116.14 309.72,116.39 309.00,116.64 308.28,116.87 307.56,117.10 306.84,117.31 306.12,117.53 305.40,117.73 304.68,117.94 303.96,118.14 303.24,118.35 302.52,118.57 301.80,118.80" fill="url(#g1_10)"/>
<polygon points="301.80,117.35 302.52,116.39 303.24,115.87 303.96,115.41 304.68,114.98 305.40,114.57 306.12,114.18 306.84,113.80 307.56,113.43 308.28,113.06 309.00,112.70 309.72,112.34 310.44,111.98 311.16,111.63 311.88,111.28 312.60,110.92 313.32,110.57 314.04,110.22 314.76,109.86 315.48,109.51 316.20,109.15 316.92,108.79 317.64,108.43 318.36,108.06 319.08,107.70 319.80,107.33 320.52,106.96 321.24,106.59 321.96,106.21 322.68,105.83 323.40,105.45 323.40,108.15 322.68,108.52 321.96,108.90 321.24,109.27 320.52,109.65 319.80,110.03 319.08,110.41 318.36,110.79 317.64,111.17 316.92,111.54 316.20,111.91 315.48,112.27 314.76,112.62 314.04,112.97 313.32,113.32 312.60,113.66 311.88,113.99 311.16,114.31 310.44,114.63 309.72,114.95 309.00,115.26 308.28,115.57 307.56,115.87 306.84,116.17 306.12,116.47 305.40,116.76 304.68,117.06 303.96,117.35 303.24,117.64 302.52,117.94 301.80,118.25" fill="url(#g2_10)"/>
<defs><linearGradient id="g1_0" gradientUnits="userSpaceOnUse" x1="27.9" y1="0" x2="58.5" y2="0"><stop offset="0.000" stop-color="#000" stop-opacity="0.550"/><stop offset="0.097" stop-color="#000" stop-opacity="0.550"/><stop offset="0.194" stop-color="#000" stop-opacity="0.550"/><stop offset="0.290" stop-color="#000" stop-opacity="0.550"/><stop offset="0.387" stop-color="#000" stop-opacity="0.550"/><stop offset="0.484" stop-color="#000" stop-opacity="0.550"/><stop offset="0.581" stop-color="#000" stop-opacity="0.550"/><stop offset="0.677" stop-color="#000" stop-opacity="0.550"/><stop offset="0.774" stop-color="#000" stop-opacity="0.550"/><stop offset="0.871" stop-color="#000" stop-opacity="0.550"/><stop offset="0.968" stop-color="#000" stop-opacity="0.550"/></linearGradient><linearGradient id="g2_0" gradientUnits="userSpaceOnUse" x1="27.9" y1="0" x2="58.5" y2="0"><stop offset="0.000" stop-color="#000" stop-opacity="0.550"/><stop offset="0.097" stop-color="#000" stop-opacity="0.550"/><stop offset="0.194" stop-color="#000" stop-opacity="0.550"/><stop offset="0.290" stop-color="#000" stop-opacity="0.550"/><stop offset="0.387" stop-color="#000" stop-opacity="0.550"/><stop offset="0.484" stop-color="#000" stop-opacity="0.550"/><stop offset="0.581" stop-color="#000" stop-opacity="0.550"/><stop offset="0.677" stop-color="#000" stop-opacity="0.550"/><stop offset="0.774" stop-color="#000" stop-opacity="0.550"/><stop offset="0.871" stop-color="#000" stop-opacity="0.550"/><stop offset="0.968" stop-color="#000" stop-opacity="0.550"/></linearGradient><linearGradient id="g1_1" gradientUnits="userSpaceOnUse" x1="58.5" y1="0" x2="74.7" y2="0"><stop offset="0.000" stop-color="#000" stop-opacity="0.550"/><stop offset="0.097" stop-color="#000" stop-opacity="0.506"/><stop offset="0.194" stop-color="#000" stop-opacity="0.487"/><stop offset="0.290" stop-color="#000" stop-opacity="0.474"/><stop offset="0.387" stop-color="#000" stop-opacity="0.466"/><stop offset="0.484" stop-color="#000" stop-opacity="0.461"/><stop offset="0.581" stop-color="#000" stop-opacity="0.459"/><stop offset="0.677" stop-color="#000" stop-opacity="0.461"/><stop offset="0.774" stop-color="#000" stop-opacity="0.467"/><stop offset="0.871" stop-color="#000" stop-opacity="0.477"/><stop offset="0.968" stop-color="#000" stop-opacity="0.494"/></linearGradient><linearGradient id="g2_1" gradientUnits="userSpaceOnUse" x1="58.5" y1="0" x2="74.7" y2="0"><stop offset="0.000" stop-color="#000" stop-opacity="0.550"/><stop offset="0.097" stop-color="#000" stop-opacity="0.550"/><stop offset="0.194" stop-color="#000" stop-opacity="0.550"/><stop offset="0.290" stop-color="#000" stop-opacity="0.550"/><stop offset="0.387" stop-color="#000" stop-opacity="0.550"/><stop offset="0.484" stop-color="#000" stop-opacity="0.550"/><stop offset="0.581" stop-color="#000" stop-opacity="0.550"/><stop offset="0.677" stop-color="#000" stop-opacity="0.550"/><stop offset="0.774" stop-color="#000" stop-opacity="0.550"/><stop offset="0.871" stop-color="#000" stop-opacity="0.550"/><stop offset="0.968" stop-color="#000" stop-opacity="0.550"/></linearGradient><linearGradient id="g1_2" gradientUnits="userSpaceOnUse" x1="74.7" y1="0" x2="101.3" y2="0"><stop offset="0.000" stop-color="#000" stop-opacity="0.506"/><stop offset="0.097" stop-color="#000" stop-opacity="0.277"/><stop offset="0.194" stop-color="#000" stop-opacity="0.242"/><stop offset="0.290" stop-color="#000" stop-opacity="0.222"/><stop offset="0.387" stop-color="#000" stop-opacity="0.210"/><stop offset="0.484" stop-color="#000" stop-opacity="0.202"/><stop offset="0.581" stop-color="#000" stop-opacity="0.200"/><stop offset="0.677" stop-color="#000" stop-opacity="0.205"/><stop offset="0.774" stop-color="#000" stop-opacity="0.222"/><stop offset="0.871" stop-color="#000" stop-opacity="0.260"/><stop offset="0.968" stop-color="#000" stop-opacity="0.367"/></linearGradient><linearGradient id="g2_2" gradientUnits="userSpaceOnUse" x1="74.7" y1="0" x2="101.3" y2="0"><stop offset="0.000" stop-color="#000" stop-opacity="0.550"/><stop offset="0.097" stop-color="#000" stop-opacity="0.410"/><stop offset="0.194" stop-color="#000" stop-opacity="0.358"/><stop offset="0.290" stop-color="#000" stop-opacity="0.329"/><stop offset="0.387" stop-color="#000" stop-opacity="0.310"/><stop offset="0.484" stop-color="#000" stop-opacity="0.300"/><stop offset="0.581" stop-color="#000" stop-opacity="0.297"/><stop offset="0.677" stop-color="#000" stop-opacity="0.304"/><stop offset="0.774" stop-color="#000" stop-opacity="0.328"/><stop offset="0.871" stop-color="#000" stop-opacity="0.385"/><stop offset="0.968" stop-color="#000" stop-opacity="0.544"/></linearGradient><linearGradient id="g1_3" gradientUnits="userSpaceOnUse" x1="101.3" y1="0" x2="142.5" y2="0"><stop offset="0.000" stop-color="#000" stop-opacity="0.506"/><stop offset="0.097" stop-color="#000" stop-opacity="0.174"/><stop offset="0.194" stop-color="#000" stop-opacity="0.144"/><stop offset="0.290" stop-color="#000" stop-opacity="0.128"/><stop offset="0.387" stop-color="#000" stop-opacity="0.119"/><stop offset="0.484" stop-color="#000" stop-opacity="0.114"/><stop offset="0.581" stop-color="#000" stop-opacity="0.112"/><stop offset="0.677" stop-color="#000" stop-opacity="0.116"/><stop offset="0.774" stop-color="#000" stop-opacity="0.127"/><stop offset="0.871" stop-color="#000" stop-opacity="0.155"/><stop offset="0.968" stop-color="#000" stop-opacity="0.246"/></linearGradient><linearGradient id="g2_3" gradientUnits="userSpaceOnUse" x1="101.3" y1="0" x2="142.5" y2="0"><stop offset="0.000" stop-color="#000" stop-opacity="0.550"/><stop offset="0.097" stop-color="#000" stop-opacity="0.258"/><stop offset="0.194" stop-color="#000" stop-opacity="0.213"/><stop offset="0.290" stop-color="#000" stop-opacity="0.190"/><stop offset="0.387" stop-color="#000" stop-opacity="0.176"/><stop offset="0.484" stop-color="#000" stop-opacity="0.168"/><stop offset="0.581" stop-color="#000" stop-opacity="0.166"/><stop offset="0.677" stop-color="#000" stop-opacity="0.171"/><stop offset="0.774" stop-color="#000" stop-opacity="0.188"/><stop offset="0.871" stop-color="#000" stop-opacity="0.229"/><stop offset="0.968" stop-color="#000" stop-opacity="0.365"/></linearGradient><linearGradient id="g1_4" gradientUnits="userSpaceOnUse" x1="142.5" y1="0" x2="164.5" y2="0"><stop offset="0.000" stop-color="#000" stop-opacity="0.405"/><stop offset="0.097" stop-color="#000" stop-opacity="0.161"/><stop offset="0.194" stop-color="#000" stop-opacity="0.135"/><stop offset="0.290" stop-color="#000" stop-opacity="0.121"/><stop offset="0.387" stop-color="#000" stop-opacity="0.113"/><stop offset="0.484" stop-color="#000" stop-opacity="0.108"/><stop offset="0.581" stop-color="#000" stop-opacity="0.107"/><stop offset="0.677" stop-color="#000" stop-opacity="0.110"/><stop offset="0.774" stop-color="#000" stop-opacity="0.121"/><stop offset="0.871" stop-color="#000" stop-opacity="0.148"/><stop offset="0.968" stop-color="#000" stop-opacity="0.239"/></linearGradient><linearGradient id="g2_4" gradientUnits="userSpaceOnUse" x1="142.5" y1="0" x2="164.5" y2="0"><stop offset="0.000" stop-color="#000" stop-opacity="0.550"/><stop offset="0.097" stop-color="#000" stop-opacity="0.239"/><stop offset="0.194" stop-color="#000" stop-opacity="0.200"/><stop offset="0.290" stop-color="#000" stop-opacity="0.180"/><stop offset="0.387" stop-color="#000" stop-opacity="0.167"/><stop offset="0.484" stop-color="#000" stop-opacity="0.160"/><stop offset="0.581" stop-color="#000" stop-opacity="0.158"/><stop offset="0.677" stop-color="#000" stop-opacity="0.163"/><stop offset="0.774" stop-color="#000" stop-opacity="0.179"/><stop offset="0.871" stop-color="#000" stop-opacity="0.219"/><stop offset="0.968" stop-color="#000" stop-opacity="0.354"/></linearGradient><linearGradient id="g1_5" gradientUnits="userSpaceOnUse" x1="164.5" y1="0" x2="194.6" y2="0"><stop offset="0.000" stop-color="#000" stop-opacity="0.405"/><stop offset="0.097" stop-color="#000" stop-opacity="0.099"/><stop offset="0.194" stop-color="#000" stop-opacity="0.080"/><stop offset="0.290" stop-color="#000" stop-opacity="0.070"/><stop offset="0.387" stop-color="#000" stop-opacity="0.065"/><stop offset="0.484" stop-color="#000" stop-opacity="0.062"/><stop offset="0.581" stop-color="#000" stop-opacity="0.061"/><stop offset="0.677" stop-color="#000" stop-opacity="0.063"/><stop offset="0.774" stop-color="#000" stop-opacity="0.070"/><stop offset="0.871" stop-color="#000" stop-opacity="0.089"/><stop offset="0.968" stop-color="#000" stop-opacity="0.168"/></linearGradient><linearGradient id="g2_5" gradientUnits="userSpaceOnUse" x1="164.5" y1="0" x2="194.6" y2="0"><stop offset="0.000" stop-color="#000" stop-opacity="0.550"/><stop offset="0.097" stop-color="#000" stop-opacity="0.147"/><stop offset="0.194" stop-color="#000" stop-opacity="0.119"/><stop offset="0.290" stop-color="#000" stop-opacity="0.104"/><stop offset="0.387" stop-color="#000" stop-opacity="0.096"/><stop offset="0.484" stop-color="#000" stop-opacity="0.091"/><stop offset="0.581" stop-color="#000" stop-opacity="0.090"/><stop offset="0.677" stop-color="#000" stop-opacity="0.093"/><stop offset="0.774" stop-color="#000" stop-opacity="0.104"/><stop offset="0.871" stop-color="#000" stop-opacity="0.133"/><stop offset="0.968" stop-color="#000" stop-opacity="0.249"/></linearGradient><linearGradient id="g1_6" gradientUnits="userSpaceOnUse" x1="194.6" y1="0" x2="224.5" y2="0"><stop offset="0.000" stop-color="#000" stop-opacity="0.405"/><stop offset="0.097" stop-color="#000" stop-opacity="0.099"/><stop offset="0.194" stop-color="#000" stop-opacity="0.080"/><stop offset="0.290" stop-color="#000" stop-opacity="0.070"/><stop offset="0.387" stop-color="#000" stop-opacity="0.065"/><stop offset="0.484" stop-color="#000" stop-opacity="0.062"/><stop offset="0.581" stop-color="#000" stop-opacity="0.061"/><stop offset="0.677" stop-color="#000" stop-opacity="0.063"/><stop offset="0.774" stop-color="#000" stop-opacity="0.070"/><stop offset="0.871" stop-color="#000" stop-opacity="0.089"/><stop offset="0.968" stop-color="#000" stop-opacity="0.168"/></linearGradient><linearGradient id="g2_6" gradientUnits="userSpaceOnUse" x1="194.6" y1="0" x2="224.5" y2="0"><stop offset="0.000" stop-color="#000" stop-opacity="0.550"/><stop offset="0.097" stop-color="#000" stop-opacity="0.147"/><stop offset="0.194" stop-color="#000" stop-opacity="0.119"/><stop offset="0.290" stop-color="#000" stop-opacity="0.104"/><stop offset="0.387" stop-color="#000" stop-opacity="0.096"/><stop offset="0.484" stop-color="#000" stop-opacity="0.091"/><stop offset="0.581" stop-color="#000" stop-opacity="0.090"/><stop offset="0.677" stop-color="#000" stop-opacity="0.093"/><stop offset="0.774" stop-color="#000" stop-opacity="0.104"/><stop offset="0.871" stop-color="#000" stop-opacity="0.133"/><stop offset="0.968" stop-color="#000" stop-opacity="0.249"/></linearGradient><linearGradient id="g1_7" gradientUnits="userSpaceOnUse" x1="224.5" y1="0" x2="234.5" y2="0"><stop offset="0.000" stop-color="#000" stop-opacity="0.405"/><stop offset="0.097" stop-color="#000" stop-opacity="0.153"/><stop offset="0.194" stop-color="#000" stop-opacity="0.127"/><stop offset="0.290" stop-color="#000" stop-opacity="0.114"/><stop offset="0.387" stop-color="#000" stop-opacity="0.106"/><stop offset="0.484" stop-color="#000" stop-opacity="0.101"/><stop offset="0.581" stop-color="#000" stop-opacity="0.100"/><stop offset="0.677" stop-color="#000" stop-opacity="0.103"/><stop offset="0.774" stop-color="#000" stop-opacity="0.113"/><stop offset="0.871" stop-color="#000" stop-opacity="0.140"/><stop offset="0.968" stop-color="#000" stop-opacity="0.230"/></linearGradient><linearGradient id="g2_7" gradientUnits="userSpaceOnUse" x1="224.5" y1="0" x2="234.5" y2="0"><stop offset="0.000" stop-color="#000" stop-opacity="0.550"/><stop offset="0.097" stop-color="#000" stop-opacity="0.226"/><stop offset="0.194" stop-color="#000" stop-opacity="0.188"/><stop offset="0.290" stop-color="#000" stop-opacity="0.169"/><stop offset="0.387" stop-color="#000" stop-opacity="0.157"/><stop offset="0.484" stop-color="#000" stop-opacity="0.150"/><stop offset="0.581" stop-color="#000" stop-opacity="0.148"/><stop offset="0.677" stop-color="#000" stop-opacity="0.153"/><stop offset="0.774" stop-color="#000" stop-opacity="0.168"/><stop offset="0.871" stop-color="#000" stop-opacity="0.207"/><stop offset="0.968" stop-color="#000" stop-opacity="0.341"/></linearGradient><linearGradient id="g1_8" gradientUnits="userSpaceOnUse" x1="234.5" y1="0" x2="278.7" y2="0"><stop offset="0.000" stop-color="#000" stop-opacity="0.405"/><stop offset="0.097" stop-color="#000" stop-opacity="0.085"/><stop offset="0.194" stop-color="#000" stop-opacity="0.068"/><stop offset="0.290" stop-color="#000" stop-opacity="0.059"/><stop offset="0.387" stop-color="#000" stop-opacity="0.054"/><stop offset="0.484" stop-color="#000" stop-opacity="0.051"/><stop offset="0.581" stop-color="#000" stop-opacity="0.051"/><stop offset="0.677" stop-color="#000" stop-opacity="0.053"/><stop offset="0.774" stop-color="#000" stop-opacity="0.059"/><stop offset="0.871" stop-color="#000" stop-opacity="0.076"/><stop offset="0.968" stop-color="#000" stop-opacity="0.148"/></linearGradient><linearGradient id="g2_8" gradientUnits="userSpaceOnUse" x1="234.5" y1="0" x2="278.7" y2="0"><stop offset="0.000" stop-color="#000" stop-opacity="0.550"/><stop offset="0.097" stop-color="#000" stop-opacity="0.125"/><stop offset="0.194" stop-color="#000" stop-opacity="0.100"/><stop offset="0.290" stop-color="#000" stop-opacity="0.088"/><stop offset="0.387" stop-color="#000" stop-opacity="0.080"/><stop offset="0.484" stop-color="#000" stop-opacity="0.076"/><stop offset="0.581" stop-color="#000" stop-opacity="0.075"/><stop offset="0.677" stop-color="#000" stop-opacity="0.078"/><stop offset="0.774" stop-color="#000" stop-opacity="0.087"/><stop offset="0.871" stop-color="#000" stop-opacity="0.112"/><stop offset="0.968" stop-color="#000" stop-opacity="0.220"/></linearGradient><linearGradient id="g1_9" gradientUnits="userSpaceOnUse" x1="278.7" y1="0" x2="301.8" y2="0"><stop offset="0.000" stop-color="#000" stop-opacity="0.405"/><stop offset="0.097" stop-color="#000" stop-opacity="0.186"/><stop offset="0.194" stop-color="#000" stop-opacity="0.158"/><stop offset="0.290" stop-color="#000" stop-opacity="0.143"/><stop offset="0.387" stop-color="#000" stop-opacity="0.134"/><stop offset="0.484" stop-color="#000" stop-opacity="0.129"/><stop offset="0.581" stop-color="#000" stop-opacity="0.127"/><stop offset="0.677" stop-color="#000" stop-opacity="0.131"/><stop offset="0.774" stop-color="#000" stop-opacity="0.143"/><stop offset="0.871" stop-color="#000" stop-opacity="0.172"/><stop offset="0.968" stop-color="#000" stop-opacity="0.263"/></linearGradient><linearGradient id="g2_9" gradientUnits="userSpaceOnUse" x1="278.7" y1="0" x2="301.8" y2="0"><stop offset="0.000" stop-color="#000" stop-opacity="0.550"/><stop offset="0.097" stop-color="#000" stop-opacity="0.275"/><stop offset="0.194" stop-color="#000" stop-opacity="0.234"/><stop offset="0.290" stop-color="#000" stop-opacity="0.212"/><stop offset="0.387" stop-color="#000" stop-opacity="0.198"/><stop offset="0.484" stop-color="#000" stop-opacity="0.191"/><stop offset="0.581" stop-color="#000" stop-opacity="0.189"/><stop offset="0.677" stop-color="#000" stop-opacity="0.194"/><stop offset="0.774" stop-color="#000" stop-opacity="0.212"/><stop offset="0.871" stop-color="#000" stop-opacity="0.255"/><stop offset="0.968" stop-color="#000" stop-opacity="0.389"/></linearGradient><linearGradient id="g1_10" gradientUnits="userSpaceOnUse" x1="301.8" y1="0" x2="323.4" y2="0"><stop offset="0.000" stop-color="#000" stop-opacity="0.405"/><stop offset="0.100" stop-color="#000" stop-opacity="0.188"/><stop offset="0.200" stop-color="#000" stop-opacity="0.159"/><stop offset="0.300" stop-color="#000" stop-opacity="0.145"/><stop offset="0.400" stop-color="#000" stop-opacity="0.138"/><stop offset="0.500" stop-color="#000" stop-opacity="0.133"/><stop offset="0.600" stop-color="#000" stop-opacity="0.132"/><stop offset="0.700" stop-color="#000" stop-opacity="0.133"/><stop offset="0.800" stop-color="#000" stop-opacity="0.134"/><stop offset="0.900" stop-color="#000" stop-opacity="0.136"/><stop offset="1.000" stop-color="#000" stop-opacity="0.135"/></linearGradient><linearGradient id="g2_10" gradientUnits="userSpaceOnUse" x1="301.8" y1="0" x2="323.4" y2="0"><stop offset="0.000" stop-color="#000" stop-opacity="0.550"/><stop offset="0.100" stop-color="#000" stop-opacity="0.278"/><stop offset="0.200" stop-color="#000" stop-opacity="0.236"/><stop offset="0.300" stop-color="#000" stop-opacity="0.215"/><stop offset="0.400" stop-color="#000" stop-opacity="0.204"/><stop offset="0.500" stop-color="#000" stop-opacity="0.198"/><stop offset="0.600" stop-color="#000" stop-opacity="0.195"/><stop offset="0.700" stop-color="#000" stop-opacity="0.196"/><stop offset="0.800" stop-color="#000" stop-opacity="0.199"/><stop offset="0.900" stop-color="#000" stop-opacity="0.201"/><stop offset="1.000" stop-color="#000" stop-opacity="0.200"/></linearGradient></defs>
<polyline points="27.90,305.30 28.89,305.13 29.87,304.96 30.86,304.79 31.85,304.62 32.84,304.45 33.82,304.27 34.81,304.10 35.80,303.93 36.78,303.76 37.77,303.59 38.76,303.42 39.75,303.25 40.73,303.08 41.72,302.91 42.71,302.74 43.69,302.56 44.68,302.39 45.67,302.22 46.65,302.05 47.64,301.88 48.63,301.71 49.62,301.54 50.60,301.37 51.59,301.20 52.58,301.03 53.56,300.85 54.55,300.68 55.54,300.51 56.53,300.34 57.51,300.17 58.50,300.00 59.02,299.76 59.55,299.61 60.07,299.47 60.59,299.34 61.11,299.21 61.64,299.09 62.16,298.97 62.68,298.85 63.20,298.73 63.73,298.61 64.25,298.49 64.77,298.37 65.29,298.26 65.82,298.14 66.34,298.02 66.86,297.91 67.38,297.79 67.91,297.68 68.43,297.57 68.95,297.45 69.47,297.34 70.00,297.22 70.52,297.11 71.04,296.99 71.56,296.88 72.09,296.76 72.61,296.65 73.13,296.54 73.65,296.42 74.18,296.31 74.70,296.20 75.56,295.17 76.42,294.74 77.27,294.39 78.13,294.08 78.99,293.81 79.85,293.55 80.71,293.30 81.56,293.07 82.42,292.86 83.28,292.65 84.14,292.44 85.00,292.25 85.85,292.06 86.71,291.88 87.57,291.70 88.43,291.53 89.29,291.36 90.15,291.19 91.00,291.03 91.86,290.87 92.72,290.72 93.58,290.57 94.44,290.42 95.29,290.27 96.15,290.13 97.01,290.00 97.87,289.87 98.73,289.74 99.58,289.63 100.44,289.53 101.30,289.50 102.63,286.95 103.96,285.75 105.29,284.75 106.62,283.84 107.95,282.99 109.27,282.20 110.60,281.44 111.93,280.71 113.26,280.00 114.59,279.31 115.92,278.65 117.25,277.99 118.58,277.35 119.91,276.73 121.24,276.11 122.56,275.51 123.89,274.91 125.22,274.32 126.55,273.74 127.88,273.17 129.21,272.60 130.54,272.04 131.87,271.49 133.20,270.94 134.53,270.40 135.85,269.87 137.18,269.35 138.51,268.85 139.84,268.36 141.17,267.91 142.50,267.60 143.21,265.30 143.92,264.37 144.63,263.61 145.34,262.96 146.05,262.37 146.76,261.83 147.47,261.32 148.18,260.85 148.89,260.39 149.60,259.96 150.31,259.55 151.02,259.15 151.73,258.77 152.44,258.40 153.15,258.04 153.85,257.70 154.56,257.36 155.27,257.03 155.98,256.71 156.69,256.40 157.40,256.09 158.11,255.80 158.82,255.51 159.53,255.23 160.24,254.96 160.95,254.69 161.66,254.44 162.37,254.21 163.08,254.00 163.79,253.82 164.50,253.80 165.47,249.08 166.44,247.12 167.41,245.53 168.38,244.15 169.35,242.89 170.33,241.73 171.30,240.65 172.27,239.62 173.24,238.65 174.21,237.72 175.18,236.82 176.15,235.96 177.12,235.13 178.09,234.32 179.06,233.53 180.04,232.77 181.01,232.03 181.98,231.30 182.95,230.60 183.92,229.91 184.89,229.23 185.86,228.57 186.83,227.93 187.80,227.30 188.77,226.69 189.75,226.10 190.72,225.54 191.69,225.00 192.66,224.51 193.63,224.10 194.60,224.00 195.56,219.29 196.53,217.34 197.49,215.76 198.46,214.39 199.42,213.14 200.39,211.99 201.35,210.92 202.32,209.90 203.28,208.94 204.25,208.01 205.21,207.13 206.17,206.28 207.14,205.45 208.10,204.65 209.07,203.88 210.03,203.13 211.00,202.39 211.96,201.68 212.93,200.98 213.89,200.30 214.85,199.63 215.82,198.98 216.78,198.35 217.75,197.73 218.71,197.13 219.68,196.55 220.64,196.00 221.61,195.47 222.57,194.99 223.54,194.59 224.50,194.50 224.82,191.83 225.15,190.65 225.47,189.67 225.79,188.79 226.11,187.99 226.44,187.24 226.76,186.53 227.08,185.85 227.40,185.19 227.73,184.56 228.05,183.96 228.37,183.36 228.69,182.79 229.02,182.22 229.34,181.67 229.66,181.14 229.98,180.61 230.31,180.09 230.63,179.58 230.95,179.08 231.27,178.59 231.60,178.11 231.92,177.64 232.24,177.17 232.56,176.71 232.89,176.27 233.21,175.84 233.53,175.42 233.85,175.03 234.18,174.68 234.50,174.50 235.93,168.56 237.35,166.02 238.78,163.94 240.20,162.11 241.63,160.44 243.05,158.89 244.48,157.43 245.91,156.04 247.33,154.71 248.76,153.44 250.18,152.21 251.61,151.02 253.04,149.87 254.46,148.75 255.89,147.66 257.31,146.59 258.74,145.55 260.16,144.53 261.59,143.54 263.02,142.56 264.44,141.60 265.87,140.67 267.29,139.75 268.72,138.85 270.15,137.97 271.57,137.12 273.00,136.30 274.42,135.51 275.85,134.78 277.27,134.14 278.70,133.90 279.45,131.90 280.19,130.97 280.94,130.17 281.68,129.46 282.43,128.80 283.17,128.17 283.92,127.57 284.66,126.99 285.41,126.44 286.15,125.90 286.90,125.37 287.64,124.86 288.39,124.35 289.13,123.86 289.88,123.38 290.62,122.90 291.37,122.43 292.11,121.97 292.86,121.52 293.60,121.07 294.35,120.63 295.09,120.20 295.84,119.77 296.58,119.34 297.33,118.93 298.07,118.52 298.82,118.12 299.56,117.73 300.31,117.36 301.05,117.02 301.80,116.80 302.52,115.12 303.24,114.40 303.96,113.83 304.68,113.33 305.40,112.87 306.12,112.45 306.84,112.05 307.56,111.67 308.28,111.30 309.00,110.94 309.72,110.60 310.44,110.25 311.16,109.91 311.88,109.58 312.60,109.24 313.32,108.90 314.04,108.56 314.76,108.22 315.48,107.88 316.20,107.54 316.92,107.19 317.64,106.83 318.36,106.47 319.08,106.11 319.80,105.74 320.52,105.36 321.24,104.98 321.96,104.59 322.68,104.20 323.40,103.80" fill="none" stroke="#8a8a8a" stroke-width="0.5"/>
<polyline points="27.90,306.30 28.89,306.14 29.87,305.98 30.86,305.83 31.85,305.67 32.84,305.51 33.82,305.35 34.81,305.19 35.80,305.04 36.78,304.88 37.77,304.72 38.76,304.56 39.75,304.40 40.73,304.25 41.72,304.09 42.71,303.93 43.69,303.77 44.68,303.61 45.67,303.45 46.65,303.30 47.64,303.14 48.63,302.98 49.62,302.82 50.60,302.66 51.59,302.51 52.58,302.35 53.56,302.19 54.55,302.03 55.54,301.87 56.53,301.72 57.51,301.56 58.50,301.40 59.02,301.29 59.55,301.18 60.07,301.07 60.59,300.97 61.11,300.86 61.64,300.75 62.16,300.65 62.68,300.54 63.20,300.43 63.73,300.33 64.25,300.22 64.77,300.11 65.29,300.00 65.82,299.89 66.34,299.78 66.86,299.67 67.38,299.56 67.91,299.44 68.43,299.33 68.95,299.21 69.47,299.09 70.00,298.97 70.52,298.85 71.04,298.73 71.56,298.60 72.09,298.48 72.61,298.35 73.13,298.22 73.65,298.08 74.18,297.95 74.70,297.80 75.56,297.63 76.42,297.47 77.27,297.32 78.13,297.17 78.99,297.03 79.85,296.90 80.71,296.76 81.56,296.63 82.42,296.50 83.28,296.37 84.14,296.24 85.00,296.11 85.85,295.98 86.71,295.85 87.57,295.70 88.43,295.56 89.29,295.40 90.15,295.24 91.00,295.06 91.86,294.87 92.72,294.66 93.58,294.44 94.44,294.19 95.29,293.93 96.15,293.64 97.01,293.33 97.87,292.99 98.73,292.61 99.58,292.20 100.44,291.74 101.30,291.10 102.63,290.50 103.96,289.94 105.29,289.39 106.62,288.86 107.95,288.34 109.27,287.83 110.60,287.32 111.93,286.81 113.26,286.31 114.59,285.81 115.92,285.31 117.25,284.80 118.58,284.29 119.91,283.77 121.24,283.24 122.56,282.69 123.89,282.12 125.22,281.54 126.55,280.92 127.88,280.28 129.21,279.60 130.54,278.88 131.87,278.13 133.20,277.32 134.53,276.46 135.85,275.55 137.18,274.58 138.51,273.54 139.84,272.43 141.17,271.20 142.50,269.60 143.21,269.25 143.92,268.94 144.63,268.64 145.34,268.36 146.05,268.09 146.76,267.83 147.47,267.57 148.18,267.32 148.89,267.07 149.60,266.83 150.31,266.58 151.02,266.33 151.73,266.08 152.44,265.82 153.15,265.54 153.85,265.25 154.56,264.95 155.27,264.62 155.98,264.26 156.69,263.87 157.40,263.45 158.11,262.99 158.82,262.48 159.53,261.93 160.24,261.32 160.95,260.65 161.66,259.92 162.37,259.11 163.08,258.22 163.79,257.21 164.50,255.80 165.47,255.03 166.44,254.34 167.41,253.68 168.38,253.05 169.35,252.44 170.33,251.86 171.30,251.28 172.27,250.72 173.24,250.16 174.21,249.60 175.18,249.04 176.15,248.48 177.12,247.91 178.09,247.32 179.06,246.70 180.04,246.06 181.01,245.38 181.98,244.65 182.95,243.87 183.92,243.03 184.89,242.11 185.86,241.12 186.83,240.03 187.80,238.85 188.77,237.55 189.75,236.14 190.72,234.59 191.69,232.90 192.66,231.03 193.63,228.91 194.60,226.00 195.56,225.24 196.53,224.55 197.49,223.91 198.46,223.29 199.42,222.69 200.39,222.11 201.35,221.55 202.32,220.99 203.28,220.44 204.25,219.90 205.21,219.35 206.17,218.80 207.14,218.23 208.10,217.65 209.07,217.05 210.03,216.41 211.00,215.74 211.96,215.03 212.93,214.25 213.89,213.42 214.85,212.52 215.82,211.53 216.78,210.45 217.75,209.28 218.71,207.99 219.68,206.59 220.64,205.05 221.61,203.37 222.57,201.51 223.54,199.40 224.50,196.50 224.82,195.96 225.15,195.46 225.47,194.98 225.79,194.51 226.11,194.06 226.44,193.61 226.76,193.17 227.08,192.74 227.40,192.31 227.73,191.89 228.05,191.46 228.37,191.03 228.69,190.59 229.02,190.15 229.34,189.69 229.66,189.21 229.98,188.72 230.31,188.20 230.63,187.65 230.95,187.07 231.27,186.45 231.60,185.79 231.92,185.08 232.24,184.31 232.56,183.48 232.89,182.60 233.21,181.64 233.53,180.60 233.85,179.46 234.18,178.20 234.50,176.50 235.93,175.43 237.35,174.44 238.78,173.51 240.20,172.61 241.63,171.74 243.05,170.89 244.48,170.05 245.91,169.23 247.33,168.42 248.76,167.60 250.18,166.79 251.61,165.97 253.04,165.14 254.46,164.29 255.89,163.41 257.31,162.49 258.74,161.52 260.16,160.50 261.59,159.41 263.02,158.25 264.44,157.00 265.87,155.64 267.29,154.18 268.72,152.60 270.15,150.87 271.57,149.01 273.00,146.98 274.42,144.77 275.85,142.34 277.27,139.61 278.70,135.90 279.45,135.42 280.19,134.97 280.94,134.54 281.68,134.12 282.43,133.70 283.17,133.29 283.92,132.89 284.66,132.49 285.41,132.09 286.15,131.70 286.90,131.30 287.64,130.90 288.39,130.50 289.13,130.09 289.88,129.67 290.62,129.24 291.37,128.80 292.11,128.34 292.86,127.86 293.60,127.35 294.35,126.82 295.09,126.25 295.84,125.65 296.58,125.01 297.33,124.33 298.07,123.61 298.82,122.83 299.56,122.00 300.31,121.10 301.05,120.10 301.80,118.80 302.52,118.57 303.24,118.35 303.96,118.14 304.68,117.94 305.40,117.73 306.12,117.53 306.84,117.31 307.56,117.10 308.28,116.87 309.00,116.64 309.72,116.39 310.44,116.14 311.16,115.88 311.88,115.60 312.60,115.31 313.32,115.01 314.04,114.69 314.76,114.36 315.48,114.02 316.20,113.67 316.92,113.30 317.64,112.92 318.36,112.53 319.08,112.14 319.80,111.74 320.52,111.35 321.24,110.95 321.96,110.56 322.68,110.18 323.40,109.80" fill="none" stroke="#8a8a8a" stroke-width="0.5"/>
<polyline points="27.90,304.90 28.89,304.74 29.87,304.57 30.86,304.41 31.85,304.24 32.84,304.08 33.82,303.91 34.81,303.75 35.80,303.58 36.78,303.42 37.77,303.25 38.76,303.09 39.75,302.93 40.73,302.76 41.72,302.60 42.71,302.43 43.69,302.27 44.68,302.10 45.67,301.94 46.65,301.77 47.64,301.61 48.63,301.45 49.62,301.28 50.60,301.12 51.59,300.95 52.58,300.79 53.56,300.62 54.55,300.46 55.54,300.29 56.53,300.13 57.51,299.96 58.50,299.80 59.02,299.68 59.55,299.56 60.07,299.44 60.59,299.32 61.11,299.20 61.64,299.08 62.16,298.96 62.68,298.85 63.20,298.73 63.73,298.61 64.25,298.49 64.77,298.37 65.29,298.25 65.82,298.13 66.34,298.01 66.86,297.89 67.38,297.77 67.91,297.65 68.43,297.53 68.95,297.41 69.47,297.29 70.00,297.17 70.52,297.05 71.04,296.94 71.56,296.82 72.09,296.70 72.61,296.58 73.13,296.46 73.65,296.34 74.18,296.22 74.70,296.10 75.56,295.88 76.42,295.67 77.27,295.45 78.13,295.24 78.99,295.02 79.85,294.80 80.71,294.59 81.56,294.37 82.42,294.15 83.28,293.94 84.14,293.72 85.00,293.51 85.85,293.29 86.71,293.07 87.57,292.86 88.43,292.64 89.29,292.43 90.15,292.21 91.00,291.99 91.86,291.78 92.72,291.56 93.58,291.35 94.44,291.13 95.29,290.91 96.15,290.70 97.01,290.48 97.87,290.26 98.73,290.05 99.58,289.83 100.44,289.62 101.30,289.40 102.63,288.70 103.96,288.00 105.29,287.30 106.62,286.60 107.95,285.90 109.27,285.20 110.60,284.50 111.93,283.80 113.26,283.10 114.59,282.40 115.92,281.70 117.25,281.00 118.58,280.30 119.91,279.60 121.24,278.90 122.56,278.20 123.89,277.50 125.22,276.80 126.55,276.10 127.88,275.40 129.21,274.70 130.54,274.00 131.87,273.30 133.20,272.60 134.53,271.90 135.85,271.20 137.18,270.50 138.51,269.80 139.84,269.10 141.17,268.40 142.50,267.70 143.21,267.25 143.92,266.81 144.63,266.36 145.34,265.92 146.05,265.47 146.76,265.03 147.47,264.58 148.18,264.14 148.89,263.69 149.60,263.25 150.31,262.80 151.02,262.36 151.73,261.91 152.44,261.47 153.15,261.02 153.85,260.58 154.56,260.13 155.27,259.69 155.98,259.24 156.69,258.80 157.40,258.35 158.11,257.91 158.82,257.46 159.53,257.02 160.24,256.57 160.95,256.13 161.66,255.68 162.37,255.24 163.08,254.79 163.79,254.35 164.50,253.90 165.47,252.94 166.44,251.98 167.41,251.02 168.38,250.05 169.35,249.09 170.33,248.13 171.30,247.17 172.27,246.21 173.24,245.25 174.21,244.29 175.18,243.33 176.15,242.36 177.12,241.40 178.09,240.44 179.06,239.48 180.04,238.52 181.01,237.56 181.98,236.60 182.95,235.64 183.92,234.67 184.89,233.71 185.86,232.75 186.83,231.79 187.80,230.83 188.77,229.87 189.75,228.91 190.72,227.95 191.69,226.98 192.66,226.02 193.63,225.06 194.60,224.10 195.56,223.15 196.53,222.20 197.49,221.25 198.46,220.29 199.42,219.34 200.39,218.39 201.35,217.44 202.32,216.49 203.28,215.54 204.25,214.58 205.21,213.63 206.17,212.68 207.14,211.73 208.10,210.78 209.07,209.83 210.03,208.87 211.00,207.92 211.96,206.97 212.93,206.02 213.89,205.07 214.85,204.12 215.82,203.16 216.78,202.21 217.75,201.26 218.71,200.31 219.68,199.36 220.64,198.41 221.61,197.45 222.57,196.50 223.54,195.55 224.50,194.60 224.82,193.95 225.15,193.31 225.47,192.66 225.79,192.02 226.11,191.37 226.44,190.73 226.76,190.08 227.08,189.44 227.40,188.79 227.73,188.15 228.05,187.50 228.37,186.86 228.69,186.21 229.02,185.57 229.34,184.92 229.66,184.28 229.98,183.63 230.31,182.99 230.63,182.34 230.95,181.70 231.27,181.05 231.60,180.41 231.92,179.76 232.24,179.12 232.56,178.47 232.89,177.83 233.21,177.18 233.53,176.54 233.85,175.89 234.18,175.25 234.50,174.60 235.93,173.29 237.35,171.98 238.78,170.67 240.20,169.36 241.63,168.05 243.05,166.74 244.48,165.43 245.91,164.12 247.33,162.81 248.76,161.50 250.18,160.19 251.61,158.88 253.04,157.57 254.46,156.26 255.89,154.95 257.31,153.65 258.74,152.34 260.16,151.03 261.59,149.72 263.02,148.41 264.44,147.10 265.87,145.79 267.29,144.48 268.72,143.17 270.15,141.86 271.57,140.55 273.00,139.24 274.42,137.93 275.85,136.62 277.27,135.31 278.70,134.00 279.45,133.45 280.19,132.90 280.94,132.35 281.68,131.79 282.43,131.24 283.17,130.69 283.92,130.14 284.66,129.59 285.41,129.04 286.15,128.48 286.90,127.93 287.64,127.38 288.39,126.83 289.13,126.28 289.88,125.73 290.62,125.17 291.37,124.62 292.11,124.07 292.86,123.52 293.60,122.97 294.35,122.42 295.09,121.86 295.84,121.31 296.58,120.76 297.33,120.21 298.07,119.66 298.82,119.11 299.56,118.55 300.31,118.00 301.05,117.45 301.80,116.90 302.52,116.53 303.24,116.17 303.96,115.80 304.68,115.43 305.40,115.07 306.12,114.70 306.84,114.33 307.56,113.97 308.28,113.60 309.00,113.23 309.72,112.87 310.44,112.50 311.16,112.13 311.88,111.77 312.60,111.40 313.32,111.03 314.04,110.67 314.76,110.30 315.48,109.93 316.20,109.57 316.92,109.20 317.64,108.83 318.36,108.47 319.08,108.10 319.80,107.73 320.52,107.37 321.24,107.00 321.96,106.63 322.68,106.27 323.40,105.90" fill="none" stroke="#bdbdbd" stroke-width="0.5"/>
<polyline points="27.90,305.80 28.89,305.64 29.87,305.47 30.86,305.31 31.85,305.14 32.84,304.98 33.82,304.81 34.81,304.65 35.80,304.48 36.78,304.32 37.77,304.15 38.76,303.99 39.75,303.83 40.73,303.66 41.72,303.50 42.71,303.33 43.69,303.17 44.68,303.00 45.67,302.84 46.65,302.67 47.64,302.51 48.63,302.35 49.62,302.18 50.60,302.02 51.59,301.85 52.58,301.69 53.56,301.52 54.55,301.36 55.54,301.19 56.53,301.03 57.51,300.86 58.50,300.70 59.02,300.58 59.55,300.46 60.07,300.34 60.59,300.22 61.11,300.10 61.64,299.98 62.16,299.86 62.68,299.75 63.20,299.63 63.73,299.51 64.25,299.39 64.77,299.27 65.29,299.15 65.82,299.03 66.34,298.91 66.86,298.79 67.38,298.67 67.91,298.55 68.43,298.43 68.95,298.31 69.47,298.19 70.00,298.07 70.52,297.95 71.04,297.84 71.56,297.72 72.09,297.60 72.61,297.48 73.13,297.36 73.65,297.24 74.18,297.12 74.70,297.00 75.56,296.78 76.42,296.57 77.27,296.35 78.13,296.14 78.99,295.92 79.85,295.70 80.71,295.49 81.56,295.27 82.42,295.05 83.28,294.84 84.14,294.62 85.00,294.41 85.85,294.19 86.71,293.97 87.57,293.76 88.43,293.54 89.29,293.33 90.15,293.11 91.00,292.89 91.86,292.68 92.72,292.46 93.58,292.25 94.44,292.03 95.29,291.81 96.15,291.60 97.01,291.38 97.87,291.16 98.73,290.95 99.58,290.73 100.44,290.52 101.30,290.30 102.63,289.60 103.96,288.90 105.29,288.20 106.62,287.50 107.95,286.80 109.27,286.10 110.60,285.40 111.93,284.70 113.26,284.00 114.59,283.30 115.92,282.60 117.25,281.90 118.58,281.20 119.91,280.50 121.24,279.80 122.56,279.10 123.89,278.40 125.22,277.70 126.55,277.00 127.88,276.30 129.21,275.60 130.54,274.90 131.87,274.20 133.20,273.50 134.53,272.80 135.85,272.10 137.18,271.40 138.51,270.70 139.84,270.00 141.17,269.30 142.50,268.60 143.21,268.15 143.92,267.71 144.63,267.26 145.34,266.82 146.05,266.37 146.76,265.93 147.47,265.48 148.18,265.04 148.89,264.59 149.60,264.15 150.31,263.70 151.02,263.26 151.73,262.81 152.44,262.37 153.15,261.92 153.85,261.48 154.56,261.03 155.27,260.59 155.98,260.14 156.69,259.70 157.40,259.25 158.11,258.81 158.82,258.36 159.53,257.92 160.24,257.47 160.95,257.03 161.66,256.58 162.37,256.14 163.08,255.69 163.79,255.25 164.50,254.80 165.47,253.84 166.44,252.88 167.41,251.92 168.38,250.95 169.35,249.99 170.33,249.03 171.30,248.07 172.27,247.11 173.24,246.15 174.21,245.19 175.18,244.23 176.15,243.26 177.12,242.30 178.09,241.34 179.06,240.38 180.04,239.42 181.01,238.46 181.98,237.50 182.95,236.54 183.92,235.57 184.89,234.61 185.86,233.65 186.83,232.69 187.80,231.73 188.77,230.77 189.75,229.81 190.72,228.85 191.69,227.88 192.66,226.92 193.63,225.96 194.60,225.00 195.56,224.05 196.53,223.10 197.49,222.15 198.46,221.19 199.42,220.24 200.39,219.29 201.35,218.34 202.32,217.39 203.28,216.44 204.25,215.48 205.21,214.53 206.17,213.58 207.14,212.63 208.10,211.68 209.07,210.73 210.03,209.77 211.00,208.82 211.96,207.87 212.93,206.92 213.89,205.97 214.85,205.02 215.82,204.06 216.78,203.11 217.75,202.16 218.71,201.21 219.68,200.26 220.64,199.31 221.61,198.35 222.57,197.40 223.54,196.45 224.50,195.50 224.82,194.85 225.15,194.21 225.47,193.56 225.79,192.92 226.11,192.27 226.44,191.63 226.76,190.98 227.08,190.34 227.40,189.69 227.73,189.05 228.05,188.40 228.37,187.76 228.69,187.11 229.02,186.47 229.34,185.82 229.66,185.18 229.98,184.53 230.31,183.89 230.63,183.24 230.95,182.60 231.27,181.95 231.60,181.31 231.92,180.66 232.24,180.02 232.56,179.37 232.89,178.73 233.21,178.08 233.53,177.44 233.85,176.79 234.18,176.15 234.50,175.50 235.93,174.19 237.35,172.88 238.78,171.57 240.20,170.26 241.63,168.95 243.05,167.64 244.48,166.33 245.91,165.02 247.33,163.71 248.76,162.40 250.18,161.09 251.61,159.78 253.04,158.47 254.46,157.16 255.89,155.85 257.31,154.55 258.74,153.24 260.16,151.93 261.59,150.62 263.02,149.31 264.44,148.00 265.87,146.69 267.29,145.38 268.72,144.07 270.15,142.76 271.57,141.45 273.00,140.14 274.42,138.83 275.85,137.52 277.27,136.21 278.70,134.90 279.45,134.35 280.19,133.80 280.94,133.25 281.68,132.69 282.43,132.14 283.17,131.59 283.92,131.04 284.66,130.49 285.41,129.94 286.15,129.38 286.90,128.83 287.64,128.28 288.39,127.73 289.13,127.18 289.88,126.63 290.62,126.07 291.37,125.52 292.11,124.97 292.86,124.42 293.60,123.87 294.35,123.32 295.09,122.76 295.84,122.21 296.58,121.66 297.33,121.11 298.07,120.56 298.82,120.01 299.56,119.45 300.31,118.90 301.05,118.35 301.80,117.80 302.52,117.43 303.24,117.07 303.96,116.70 304.68,116.33 305.40,115.97 306.12,115.60 306.84,115.23 307.56,114.87 308.28,114.50 309.00,114.13 309.72,113.77 310.44,113.40 311.16,113.03 311.88,112.67 312.60,112.30 313.32,111.93 314.04,111.57 314.76,111.20 315.48,110.83 316.20,110.47 316.92,110.10 317.64,109.73 318.36,109.37 319.08,109.00 319.80,108.63 320.52,108.27 321.24,107.90 321.96,107.53 322.68,107.17 323.40,106.80" fill="none" stroke="#d43c44" stroke-opacity="1" stroke-width="0.75"/>
<line x1="27.90" y1="305.80" x2="28.89" y2="305.64" stroke="#4a1c22" stroke-opacity="0.80" stroke-width="1.00" stroke-linecap="round"/>
<line x1="28.89" y1="305.64" x2="29.87" y2="305.47" stroke="#4a1c22" stroke-opacity="0.80" stroke-width="1.00" stroke-linecap="round"/>
<line x1="29.87" y1="305.47" x2="30.86" y2="305.31" stroke="#4a1c22" stroke-opacity="0.80" stroke-width="1.01" stroke-linecap="round"/>
<line x1="30.86" y1="305.31" x2="31.85" y2="305.14" stroke="#4a1c22" stroke-opacity="0.80" stroke-width="1.01" stroke-linecap="round"/>
<line x1="31.85" y1="305.14" x2="32.84" y2="304.98" stroke="#4a1c22" stroke-opacity="0.80" stroke-width="1.01" stroke-linecap="round"/>
<line x1="32.84" y1="304.98" x2="33.82" y2="304.81" stroke="#4a1c22" stroke-opacity="0.80" stroke-width="1.01" stroke-linecap="round"/>
<line x1="33.82" y1="304.81" x2="34.81" y2="304.65" stroke="#4a1c22" stroke-opacity="0.80" stroke-width="1.02" stroke-linecap="round"/>
<line x1="34.81" y1="304.65" x2="35.80" y2="304.48" stroke="#4a1c22" stroke-opacity="0.80" stroke-width="1.02" stroke-linecap="round"/>
<line x1="35.80" y1="304.48" x2="36.78" y2="304.32" stroke="#4a1c22" stroke-opacity="0.80" stroke-width="1.02" stroke-linecap="round"/>
<line x1="36.78" y1="304.32" x2="37.77" y2="304.15" stroke="#4a1c22" stroke-opacity="0.80" stroke-width="1.02" stroke-linecap="round"/>
<line x1="37.77" y1="304.15" x2="38.76" y2="303.99" stroke="#4a1c22" stroke-opacity="0.80" stroke-width="1.03" stroke-linecap="round"/>
<line x1="38.76" y1="303.99" x2="39.75" y2="303.83" stroke="#4a1c22" stroke-opacity="0.80" stroke-width="1.03" stroke-linecap="round"/>
<line x1="39.75" y1="303.83" x2="40.73" y2="303.66" stroke="#4a1c22" stroke-opacity="0.80" stroke-width="1.03" stroke-linecap="round"/>
<line x1="40.73" y1="303.66" x2="41.72" y2="303.50" stroke="#4a1c22" stroke-opacity="0.80" stroke-width="1.03" stroke-linecap="round"/>
<line x1="41.72" y1="303.50" x2="42.71" y2="303.33" stroke="#4a1c22" stroke-opacity="0.80" stroke-width="1.04" stroke-linecap="round"/>
<line x1="42.71" y1="303.33" x2="43.69" y2="303.17" stroke="#4a1c22" stroke-opacity="0.80" stroke-width="1.04" stroke-linecap="round"/>
<line x1="43.69" y1="303.17" x2="44.68" y2="303.00" stroke="#4a1c22" stroke-opacity="0.80" stroke-width="1.04" stroke-linecap="round"/>
<line x1="44.68" y1="303.00" x2="45.67" y2="302.84" stroke="#4a1c22" stroke-opacity="0.80" stroke-width="1.05" stroke-linecap="round"/>
<line x1="45.67" y1="302.84" x2="46.65" y2="302.67" stroke="#4a1c22" stroke-opacity="0.80" stroke-width="1.05" stroke-linecap="round"/>
<line x1="46.65" y1="302.67" x2="47.64" y2="302.51" stroke="#4a1c22" stroke-opacity="0.80" stroke-width="1.05" stroke-linecap="round"/>
<line x1="47.64" y1="302.51" x2="48.63" y2="302.35" stroke="#4a1c22" stroke-opacity="0.80" stroke-width="1.05" stroke-linecap="round"/>
<line x1="48.63" y1="302.35" x2="49.62" y2="302.18" stroke="#4a1c22" stroke-opacity="0.80" stroke-width="1.06" stroke-linecap="round"/>
<line x1="49.62" y1="302.18" x2="50.60" y2="302.02" stroke="#4a1c22" stroke-opacity="0.80" stroke-width="1.06" stroke-linecap="round"/>
<line x1="50.60" y1="302.02" x2="51.59" y2="301.85" stroke="#4a1c22" stroke-opacity="0.80" stroke-width="1.06" stroke-linecap="round"/>
<line x1="51.59" y1="301.85" x2="52.58" y2="301.69" stroke="#4a1c22" stroke-opacity="0.80" stroke-width="1.06" stroke-linecap="round"/>
<line x1="52.58" y1="301.69" x2="53.56" y2="301.52" stroke="#4a1c22" stroke-opacity="0.80" stroke-width="1.07" stroke-linecap="round"/>
<line x1="53.56" y1="301.52" x2="54.55" y2="301.36" stroke="#4a1c22" stroke-opacity="0.80" stroke-width="1.07" stroke-linecap="round"/>
<line x1="54.55" y1="301.36" x2="55.54" y2="301.19" stroke="#4a1c22" stroke-opacity="0.80" stroke-width="1.07" stroke-linecap="round"/>
<line x1="55.54" y1="301.19" x2="56.53" y2="301.03" stroke="#4a1c22" stroke-opacity="0.80" stroke-width="1.07" stroke-linecap="round"/>
<line x1="56.53" y1="301.03" x2="57.51" y2="300.86" stroke="#4a1c22" stroke-opacity="0.80" stroke-width="1.08" stroke-linecap="round"/>
<line x1="57.51" y1="300.86" x2="58.50" y2="300.70" stroke="#4a1c22" stroke-opacity="0.80" stroke-width="1.08" stroke-linecap="round"/>
<line x1="58.50" y1="300.70" x2="59.02" y2="300.58" stroke="#4a1c22" stroke-opacity="0.80" stroke-width="1.09" stroke-linecap="round"/>
<line x1="59.02" y1="300.58" x2="59.55" y2="300.46" stroke="#4a1c22" stroke-opacity="0.80" stroke-width="1.11" stroke-linecap="round"/>
<line x1="59.55" y1="300.46" x2="60.07" y2="300.34" stroke="#4a1c22" stroke-opacity="0.80" stroke-width="1.12" stroke-linecap="round"/>
<line x1="60.07" y1="300.34" x2="60.59" y2="300.22" stroke="#4a1c22" stroke-opacity="0.80" stroke-width="1.12" stroke-linecap="round"/>
<line x1="60.59" y1="300.22" x2="61.11" y2="300.10" stroke="#4a1c22" stroke-opacity="0.80" stroke-width="1.13" stroke-linecap="round"/>
<line x1="61.11" y1="300.10" x2="61.64" y2="299.98" stroke="#4a1c22" stroke-opacity="0.80" stroke-width="1.13" stroke-linecap="round"/>
<line x1="61.64" y1="299.98" x2="62.16" y2="299.86" stroke="#4a1c22" stroke-opacity="0.80" stroke-width="1.13" stroke-linecap="round"/>
<line x1="62.16" y1="299.86" x2="62.68" y2="299.75" stroke="#4a1c22" stroke-opacity="0.80" stroke-width="1.14" stroke-linecap="round"/>
<line x1="62.68" y1="299.75" x2="63.20" y2="299.63" stroke="#4a1c22" stroke-opacity="0.80" stroke-width="1.14" stroke-linecap="round"/>
<line x1="63.20" y1="299.63" x2="63.73" y2="299.51" stroke="#4a1c22" stroke-opacity="0.80" stroke-width="1.14" stroke-linecap="round"/>
<line x1="63.73" y1="299.51" x2="64.25" y2="299.39" stroke="#4a1c22" stroke-opacity="0.80" stroke-width="1.14" stroke-linecap="round"/>
<line x1="64.25" y1="299.39" x2="64.77" y2="299.27" stroke="#4a1c22" stroke-opacity="0.80" stroke-width="1.15" stroke-linecap="round"/>
<line x1="64.77" y1="299.27" x2="65.29" y2="299.15" stroke="#4a1c22" stroke-opacity="0.80" stroke-width="1.15" stroke-linecap="round"/>
<line x1="65.29" y1="299.15" x2="65.82" y2="299.03" stroke="#4a1c22" stroke-opacity="0.80" stroke-width="1.15" stroke-linecap="round"/>
<line x1="65.82" y1="299.03" x2="66.34" y2="298.91" stroke="#4a1c22" stroke-opacity="0.80" stroke-width="1.15" stroke-linecap="round"/>
<line x1="66.34" y1="298.91" x2="66.86" y2="298.79" stroke="#4a1c22" stroke-opacity="0.80" stroke-width="1.15" stroke-linecap="round"/>
<line x1="66.86" y1="298.79" x2="67.38" y2="298.67" stroke="#4a1c22" stroke-opacity="0.80" stroke-width="1.15" stroke-linecap="round"/>
<line x1="67.38" y1="298.67" x2="67.91" y2="298.55" stroke="#4a1c22" stroke-opacity="0.80" stroke-width="1.15" stroke-linecap="round"/>
<line x1="67.91" y1="298.55" x2="68.43" y2="298.43" stroke="#4a1c22" stroke-opacity="0.80" stroke-width="1.15" stroke-linecap="round"/>
<line x1="68.43" y1="298.43" x2="68.95" y2="298.31" stroke="#4a1c22" stroke-opacity="0.80" stroke-width="1.15" stroke-linecap="round"/>
<line x1="68.95" y1="298.31" x2="69.47" y2="298.19" stroke="#4a1c22" stroke-opacity="0.80" stroke-width="1.15" stroke-linecap="round"/>
<line x1="69.47" y1="298.19" x2="70.00" y2="298.07" stroke="#4a1c22" stroke-opacity="0.80" stroke-width="1.15" stroke-linecap="round"/>
<line x1="70.00" y1="298.07" x2="70.52" y2="297.95" stroke="#4a1c22" stroke-opacity="0.80" stroke-width="1.15" stroke-linecap="round"/>
<line x1="70.52" y1="297.95" x2="71.04" y2="297.84" stroke="#4a1c22" stroke-opacity="0.80" stroke-width="1.15" stroke-linecap="round"/>
<line x1="71.04" y1="297.84" x2="71.56" y2="297.72" stroke="#4a1c22" stroke-opacity="0.80" stroke-width="1.15" stroke-linecap="round"/>
<line x1="71.56" y1="297.72" x2="72.09" y2="297.60" stroke="#4a1c22" stroke-opacity="0.80" stroke-width="1.14" stroke-linecap="round"/>
<line x1="72.09" y1="297.60" x2="72.61" y2="297.48" stroke="#4a1c22" stroke-opacity="0.80" stroke-width="1.14" stroke-linecap="round"/>
<line x1="72.61" y1="297.48" x2="73.13" y2="297.36" stroke="#4a1c22" stroke-opacity="0.80" stroke-width="1.14" stroke-linecap="round"/>
<line x1="73.13" y1="297.36" x2="73.65" y2="297.24" stroke="#4a1c22" stroke-opacity="0.80" stroke-width="1.13" stroke-linecap="round"/>
<line x1="73.65" y1="297.24" x2="74.18" y2="297.12" stroke="#4a1c22" stroke-opacity="0.80" stroke-width="1.13" stroke-linecap="round"/>
<line x1="74.18" y1="297.12" x2="74.70" y2="297.00" stroke="#4a1c22" stroke-opacity="0.80" stroke-width="1.12" stroke-linecap="round"/>
<line x1="74.70" y1="297.00" x2="75.56" y2="296.78" stroke="#4a1c22" stroke-opacity="0.71" stroke-width="1.21" stroke-linecap="round"/>
<line x1="75.56" y1="296.78" x2="76.42" y2="296.57" stroke="#4a1c22" stroke-opacity="0.56" stroke-width="1.32" stroke-linecap="round"/>
<line x1="76.42" y1="296.57" x2="77.27" y2="296.35" stroke="#4a1c22" stroke-opacity="0.34" stroke-width="1.36" stroke-linecap="round"/>
<line x1="77.27" y1="296.35" x2="78.13" y2="296.14" stroke="#4a1c22" stroke-opacity="0.32" stroke-width="1.40" stroke-linecap="round"/>
<line x1="78.13" y1="296.14" x2="78.99" y2="295.92" stroke="#4a1c22" stroke-opacity="0.31" stroke-width="1.43" stroke-linecap="round"/>
<line x1="78.99" y1="295.92" x2="79.85" y2="295.70" stroke="#4a1c22" stroke-opacity="0.30" stroke-width="1.46" stroke-linecap="round"/>
<line x1="79.85" y1="295.70" x2="80.71" y2="295.49" stroke="#4a1c22" stroke-opacity="0.29" stroke-width="1.48" stroke-linecap="round"/>
<line x1="80.71" y1="295.49" x2="81.56" y2="295.27" stroke="#4a1c22" stroke-opacity="0.28" stroke-width="1.50" stroke-linecap="round"/>
<line x1="81.56" y1="295.27" x2="82.42" y2="295.05" stroke="#4a1c22" stroke-opacity="0.27" stroke-width="1.50" stroke-linecap="round"/>
<line x1="82.42" y1="295.05" x2="83.28" y2="294.84" stroke="#4a1c22" stroke-opacity="0.26" stroke-width="1.50" stroke-linecap="round"/>
<line x1="83.28" y1="294.84" x2="84.14" y2="294.62" stroke="#4a1c22" stroke-opacity="0.26" stroke-width="1.50" stroke-linecap="round"/>
<line x1="84.14" y1="294.62" x2="85.00" y2="294.41" stroke="#4a1c22" stroke-opacity="0.25" stroke-width="1.50" stroke-linecap="round"/>
<line x1="85.00" y1="294.41" x2="85.85" y2="294.19" stroke="#4a1c22" stroke-opacity="0.25" stroke-width="1.50" stroke-linecap="round"/>
<line x1="85.85" y1="294.19" x2="86.71" y2="293.97" stroke="#4a1c22" stroke-opacity="0.25" stroke-width="1.50" stroke-linecap="round"/>
<line x1="86.71" y1="293.97" x2="87.57" y2="293.76" stroke="#4a1c22" stroke-opacity="0.24" stroke-width="1.50" stroke-linecap="round"/>
<line x1="87.57" y1="293.76" x2="88.43" y2="293.54" stroke="#4a1c22" stroke-opacity="0.24" stroke-width="1.50" stroke-linecap="round"/>
<line x1="88.43" y1="293.54" x2="89.29" y2="293.33" stroke="#4a1c22" stroke-opacity="0.24" stroke-width="1.50" stroke-linecap="round"/>
<line x1="89.29" y1="293.33" x2="90.15" y2="293.11" stroke="#4a1c22" stroke-opacity="0.24" stroke-width="1.50" stroke-linecap="round"/>
<line x1="90.15" y1="293.11" x2="91.00" y2="292.89" stroke="#4a1c22" stroke-opacity="0.24" stroke-width="1.50" stroke-linecap="round"/>
<line x1="91.00" y1="292.89" x2="91.86" y2="292.68" stroke="#4a1c22" stroke-opacity="0.24" stroke-width="1.50" stroke-linecap="round"/>
<line x1="91.86" y1="292.68" x2="92.72" y2="292.46" stroke="#4a1c22" stroke-opacity="0.25" stroke-width="1.50" stroke-linecap="round"/>
<line x1="92.72" y1="292.46" x2="93.58" y2="292.25" stroke="#4a1c22" stroke-opacity="0.25" stroke-width="1.50" stroke-linecap="round"/>
<line x1="93.58" y1="292.25" x2="94.44" y2="292.03" stroke="#4a1c22" stroke-opacity="0.25" stroke-width="1.50" stroke-linecap="round"/>
<line x1="94.44" y1="292.03" x2="95.29" y2="291.81" stroke="#4a1c22" stroke-opacity="0.26" stroke-width="1.50" stroke-linecap="round"/>
<line x1="95.29" y1="291.81" x2="96.15" y2="291.60" stroke="#4a1c22" stroke-opacity="0.27" stroke-width="1.50" stroke-linecap="round"/>
<line x1="96.15" y1="291.60" x2="97.01" y2="291.38" stroke="#4a1c22" stroke-opacity="0.28" stroke-width="1.48" stroke-linecap="round"/>
<line x1="97.01" y1="291.38" x2="97.87" y2="291.16" stroke="#4a1c22" stroke-opacity="0.30" stroke-width="1.44" stroke-linecap="round"/>
<line x1="97.87" y1="291.16" x2="98.73" y2="290.95" stroke="#4a1c22" stroke-opacity="0.32" stroke-width="1.40" stroke-linecap="round"/>
<line x1="98.73" y1="290.95" x2="99.58" y2="290.73" stroke="#4a1c22" stroke-opacity="0.35" stroke-width="1.34" stroke-linecap="round"/>
<line x1="99.58" y1="290.73" x2="100.44" y2="290.52" stroke="#4a1c22" stroke-opacity="0.40" stroke-width="1.28" stroke-linecap="round"/>
<line x1="100.44" y1="290.52" x2="101.30" y2="290.30" stroke="#4a1c22" stroke-opacity="0.45" stroke-width="1.18" stroke-linecap="round"/>
<line x1="101.30" y1="290.30" x2="102.63" y2="289.60" stroke="#4a1c22" stroke-opacity="0.37" stroke-width="1.32" stroke-linecap="round"/>
<line x1="102.63" y1="289.60" x2="103.96" y2="288.90" stroke="#4a1c22" stroke-opacity="0.25" stroke-width="1.50" stroke-linecap="round"/>
<line x1="103.96" y1="288.90" x2="105.29" y2="288.20" stroke="#4a1c22" stroke-opacity="0.22" stroke-width="1.50" stroke-linecap="round"/>
<line x1="13.70" y1="305.80" x2="27.90" y2="305.80" stroke="#d4e8ea" stroke-width="1.0" />
<polygon points="58.50,300.30 58.90,302.50 58.50,305.60 58.10,302.50" fill="#3c30d0" fill-opacity="0.6" stroke="#3c30d0" stroke-opacity="0.5" stroke-width="0.5"/>
<polygon points="74.70,296.40 75.30,297.50 74.70,305.40 74.10,297.50" fill="#3c30d0" fill-opacity="0.6" stroke="#3c30d0" stroke-opacity="0.5" stroke-width="0.5"/>
<polygon points="101.30,289.50 103.10,290.30 101.30,292.80 99.50,290.30" fill="#3c30d0" fill-opacity="0.6" stroke="#3c30d0" stroke-opacity="0.5" stroke-width="0.5"/>
<polygon points="142.50,266.00 143.40,268.70 142.50,271.50 141.60,268.70" fill="#3c30d0" fill-opacity="0.6" stroke="#3c30d0" stroke-opacity="0.5" stroke-width="0.5"/>
<polygon points="164.50,251.50 165.40,254.80 164.50,258.50 163.60,254.80" fill="#3c30d0" fill-opacity="0.6" stroke="#3c30d0" stroke-opacity="0.5" stroke-width="0.5"/>
<polygon points="194.50,222.50 195.30,225.20 194.50,228.00 193.70,225.20" fill="#3c30d0" fill-opacity="0.6" stroke="#3c30d0" stroke-opacity="0.5" stroke-width="0.5"/>
<polygon points="224.50,190.20 225.20,195.80 224.50,198.60 223.80,195.80" fill="#3c30d0" fill-opacity="0.6" stroke="#3c30d0" stroke-opacity="0.5" stroke-width="0.5"/>
<polygon points="234.40,173.30 235.10,176.80 234.40,180.70 233.70,176.80" fill="#3c30d0" fill-opacity="0.6" stroke="#3c30d0" stroke-opacity="0.5" stroke-width="0.5"/>
<polygon points="278.70,130.60 279.50,134.90 278.70,138.00 277.90,134.90" fill="#3c30d0" fill-opacity="0.6" stroke="#3c30d0" stroke-opacity="0.5" stroke-width="0.5"/>
<polygon points="301.80,115.00 302.70,118.00 301.80,120.50 300.90,118.00" fill="#3c30d0" fill-opacity="0.6" stroke="#3c30d0" stroke-opacity="0.5" stroke-width="0.5"/>
<polygon points="323.40,101.00 323.85,106.30 323.40,114.40 322.95,106.30" fill="#3c30d0" fill-opacity="0.6" stroke="#3c30d0" stroke-opacity="0.5" stroke-width="0.5"/>
<line x1="13.60" y1="98.50" x2="13.60" y2="307.60" stroke="#4a4a4a" stroke-width="1.0" />
<line x1="13.60" y1="307.60" x2="338.90" y2="307.60" stroke="#4a4a4a" stroke-width="1.0" />
<line x1="11.40" y1="305.70" x2="13.60" y2="305.70" stroke="#4a4a4a" stroke-width="1.0" />
<line x1="11.40" y1="261.50" x2="13.60" y2="261.50" stroke="#4a4a4a" stroke-width="1.0" />
<line x1="11.40" y1="217.30" x2="13.60" y2="217.30" stroke="#4a4a4a" stroke-width="1.0" />
<line x1="11.40" y1="173.10" x2="13.60" y2="173.10" stroke="#4a4a4a" stroke-width="1.0" />
<line x1="11.40" y1="128.90" x2="13.60" y2="128.90" stroke="#4a4a4a" stroke-width="1.0" />
<line x1="61.10" y1="307.60" x2="61.10" y2="309.90" stroke="#4a4a4a" stroke-width="1.0" />
<line x1="127.10" y1="307.60" x2="127.10" y2="309.90" stroke="#4a4a4a" stroke-width="1.0" />
<line x1="193.10" y1="307.60" x2="193.10" y2="309.90" stroke="#4a4a4a" stroke-width="1.0" />
<line x1="259.10" y1="307.60" x2="259.10" y2="309.90" stroke="#4a4a4a" stroke-width="1.0" />
<line x1="325.10" y1="307.60" x2="325.10" y2="309.90" stroke="#4a4a4a" stroke-width="1.0" />
</g>
<g>
<text x="9.20" y="4.40" font-size="4.4" text-anchor="middle" fill="#1e1e1e" stroke="#1e1e1e" stroke-width="0.12" transform="rotate(-90 9.20 4.40)" >-85</text>
<text x="9.20" y="14.97" font-size="4.4" text-anchor="middle" fill="#1e1e1e" stroke="#1e1e1e" stroke-width="0.12" transform="rotate(-90 9.20 14.97)" >-90</text>
<text x="9.20" y="25.54" font-size="4.4" text-anchor="middle" fill="#1e1e1e" stroke="#1e1e1e" stroke-width="0.12" transform="rotate(-90 9.20 25.54)" >-95</text>
<text x="9.20" y="36.11" font-size="4.4" text-anchor="middle" fill="#1e1e1e" stroke="#1e1e1e" stroke-width="0.12" transform="rotate(-90 9.20 36.11)" >-100</text>
<text x="9.20" y="57.25" font-size="4.4" text-anchor="middle" fill="#1e1e1e" stroke="#1e1e1e" stroke-width="0.12" transform="rotate(-90 9.20 57.25)" >-110</text>
<text x="9.20" y="78.39" font-size="4.4" text-anchor="middle" fill="#1e1e1e" stroke="#1e1e1e" stroke-width="0.12" transform="rotate(-90 9.20 78.39)" >-120</text>
<text x="17.10" y="87.00" font-size="4.4" text-anchor="middle" fill="#1e1e1e" stroke="#1e1e1e" stroke-width="0.12" >0</text>
<text x="39.60" y="87.00" font-size="4.4" text-anchor="middle" fill="#1e1e1e" stroke="#1e1e1e" stroke-width="0.12" >1000</text>
<text x="62.10" y="87.00" font-size="4.4" text-anchor="middle" fill="#1e1e1e" stroke="#1e1e1e" stroke-width="0.12" >2000</text>
<text x="84.60" y="87.00" font-size="4.4" text-anchor="middle" fill="#1e1e1e" stroke="#1e1e1e" stroke-width="0.12" >3000</text>
<text x="107.10" y="87.00" font-size="4.4" text-anchor="middle" fill="#1e1e1e" stroke="#1e1e1e" stroke-width="0.12" >4000</text>
<text x="62.40" y="91.20" font-size="4.45" text-anchor="middle" fill="#1e1e1e" stroke="#1e1e1e" stroke-width="0.12" >Iteration</text>
<text x="3.60" y="37.80" font-size="3.95" text-anchor="middle" fill="#1e1e1e" stroke="#1e1e1e" stroke-width="0.12" transform="rotate(-90 3.60 37.80)" >Log of Objective</text>
<text x="104.00" y="73.80" font-size="10.7" text-anchor="middle" fill="#111" stroke="#111" stroke-width="0" >(a)</text>
<text x="117.40" y="87.00" font-size="4.4" text-anchor="middle" fill="#1e1e1e" stroke="#1e1e1e" stroke-width="0.12" >0</text>
<text x="146.80" y="87.00" font-size="4.4" text-anchor="middle" fill="#1e1e1e" stroke="#1e1e1e" stroke-width="0.12" >50</text>
<text x="176.20" y="87.00" font-size="4.4" text-anchor="middle" fill="#1e1e1e" stroke="#1e1e1e" stroke-width="0.12" >100</text>
<text x="205.60" y="87.00" font-size="4.4" text-anchor="middle" fill="#1e1e1e" stroke="#1e1e1e" stroke-width="0.12" >150</text>
<text x="168.00" y="90.60" font-size="4.45" text-anchor="middle" fill="#1e1e1e" stroke="#1e1e1e" stroke-width="0.12" >Acc. rate (yr/cm)</text>
<text x="138.40" y="7.35" font-size="4.0" text-anchor="end" fill="#E2708A" stroke="#E2708A" stroke-width="0.12" >acc.shape:</text>
<text x="142.20" y="7.35" font-size="4.0" text-anchor="start" fill="#E2708A" stroke="#E2708A" stroke-width="0.12" >1.5</text>
<text x="138.40" y="11.65" font-size="4.0" text-anchor="end" fill="#E2708A" stroke="#E2708A" stroke-width="0.12" >acc.mean:</text>
<text x="142.20" y="11.65" font-size="4.0" text-anchor="start" fill="#E2708A" stroke="#E2708A" stroke-width="0.12" >20</text>
<text x="218.40" y="73.50" font-size="10.7" text-anchor="middle" fill="#111" stroke="#111" stroke-width="0" >(b)</text>
<text x="232.40" y="87.00" font-size="4.4" text-anchor="middle" fill="#1e1e1e" stroke="#1e1e1e" stroke-width="0.12" >0.0</text>
<text x="253.30" y="87.00" font-size="4.4" text-anchor="middle" fill="#1e1e1e" stroke="#1e1e1e" stroke-width="0.12" >0.2</text>
<text x="274.20" y="87.00" font-size="4.4" text-anchor="middle" fill="#1e1e1e" stroke="#1e1e1e" stroke-width="0.12" >0.4</text>
<text x="295.10" y="87.00" font-size="4.4" text-anchor="middle" fill="#1e1e1e" stroke="#1e1e1e" stroke-width="0.12" >0.6</text>
<text x="316.00" y="87.00" font-size="4.4" text-anchor="middle" fill="#1e1e1e" stroke="#1e1e1e" stroke-width="0.12" >0.8</text>
<text x="336.90" y="87.00" font-size="4.4" text-anchor="middle" fill="#1e1e1e" stroke="#1e1e1e" stroke-width="0.12" >1.0</text>
<text x="284.50" y="91.20" font-size="4.45" text-anchor="middle" fill="#1e1e1e" stroke="#1e1e1e" stroke-width="0.12" >Memory</text>
<text x="235.10" y="8.30" font-size="3.9" text-anchor="start" fill="#E2708A" stroke="#E2708A" stroke-width="0.12" >mem.strength: 10</text>
<text x="235.10" y="12.70" font-size="3.9" text-anchor="start" fill="#E2708A" stroke="#E2708A" stroke-width="0.12" >mem.mean: 0.5</text>
<text x="235.10" y="16.60" font-size="3.9" text-anchor="start" fill="#E2708A" stroke="#E2708A" stroke-width="0.12" >91.5 cm sections</text>
<text x="333.50" y="72.80" font-size="10.7" text-anchor="middle" fill="#111" stroke="#111" stroke-width="0" >(c)</text>
<text text-rendering="geometricPrecision" x="61.20" y="306.45" font-size="6.0" text-anchor="start" fill="#262626" stroke="#262626" stroke-width="0.22" >95±5</text>
<text text-rendering="geometricPrecision" x="76.10" y="304.25" font-size="6.0" text-anchor="start" fill="#262626" stroke="#262626" stroke-width="0.22" >250±25</text>
<text text-rendering="geometricPrecision" x="105.10" y="297.05" font-size="6.0" text-anchor="start" fill="#262626" stroke="#262626" stroke-width="0.22" >745±25</text>
<text text-rendering="geometricPrecision" x="144.20" y="277.85" font-size="6.0" text-anchor="start" fill="#262626" stroke="#262626" stroke-width="0.22" >1775±25</text>
<text text-rendering="geometricPrecision" x="165.90" y="264.35" font-size="6.0" text-anchor="start" fill="#262626" stroke="#262626" stroke-width="0.22" >2290±25</text>
<text text-rendering="geometricPrecision" x="195.70" y="233.95" font-size="6.0" text-anchor="start" fill="#262626" stroke="#262626" stroke-width="0.22" >3370±25</text>
<text text-rendering="geometricPrecision" x="228.20" y="202.95" font-size="6.0" text-anchor="start" fill="#262626" stroke="#262626" stroke-width="0.22" >4365±25</text>
<text text-rendering="geometricPrecision" x="237.30" y="184.55" font-size="6.0" text-anchor="start" fill="#262626" stroke="#262626" stroke-width="0.22" >5080±25</text>
<text text-rendering="geometricPrecision" x="279.80" y="144.15" font-size="6.0" text-anchor="start" fill="#262626" stroke="#262626" stroke-width="0.22" >6880±25</text>
<text text-rendering="geometricPrecision" x="300.20" y="128.85" font-size="6.0" text-anchor="start" fill="#262626" stroke="#262626" stroke-width="0.22" >7660±25</text>
<text text-rendering="geometricPrecision" x="326.20" y="113.85" font-size="6.0" text-anchor="start" fill="#262626" stroke="#262626" stroke-width="0.22" >8055±25</text>
<text x="8.80" y="305.70" font-size="4.4" text-anchor="middle" fill="#1e1e1e" stroke="#1e1e1e" stroke-width="0.12" transform="rotate(-90 8.80 305.70)" >0</text>
<text x="8.80" y="261.50" font-size="4.4" text-anchor="middle" fill="#1e1e1e" stroke="#1e1e1e" stroke-width="0.12" transform="rotate(-90 8.80 261.50)" >2000</text>
<text x="8.80" y="217.30" font-size="4.4" text-anchor="middle" fill="#1e1e1e" stroke="#1e1e1e" stroke-width="0.12" transform="rotate(-90 8.80 217.30)" >4000</text>
<text x="8.80" y="173.10" font-size="4.4" text-anchor="middle" fill="#1e1e1e" stroke="#1e1e1e" stroke-width="0.12" transform="rotate(-90 8.80 173.10)" >6000</text>
<text x="8.80" y="128.90" font-size="4.4" text-anchor="middle" fill="#1e1e1e" stroke="#1e1e1e" stroke-width="0.12" transform="rotate(-90 8.80 128.90)" >8000</text>
<text x="61.10" y="315.30" font-size="4.4" text-anchor="middle" fill="#1e1e1e" stroke="#1e1e1e" stroke-width="0.12" >900</text>
<text x="127.10" y="315.30" font-size="4.4" text-anchor="middle" fill="#1e1e1e" stroke="#1e1e1e" stroke-width="0.12" >1000</text>
<text x="193.10" y="315.30" font-size="4.4" text-anchor="middle" fill="#1e1e1e" stroke="#1e1e1e" stroke-width="0.12" >1100</text>
<text x="259.10" y="315.30" font-size="4.4" text-anchor="middle" fill="#1e1e1e" stroke="#1e1e1e" stroke-width="0.12" >1200</text>
<text x="325.10" y="315.30" font-size="4.4" text-anchor="middle" fill="#1e1e1e" stroke="#1e1e1e" stroke-width="0.12" >1300</text>
<text x="175.50" y="320.20" font-size="4.45" text-anchor="middle" fill="#1e1e1e" stroke="#1e1e1e" stroke-width="0.12" >Depth (cm)</text>
<text x="3.60" y="203.00" font-size="4.2" text-anchor="middle" fill="#1e1e1e" stroke="#1e1e1e" stroke-width="0.12" transform="rotate(-90 3.60 203.00)" >cal yr BP</text>
<text x="330.70" y="301.80" font-size="10.7" text-anchor="middle" fill="#111" stroke="#111" stroke-width="0" >(d)</text>
</g>
</svg></body></html>
